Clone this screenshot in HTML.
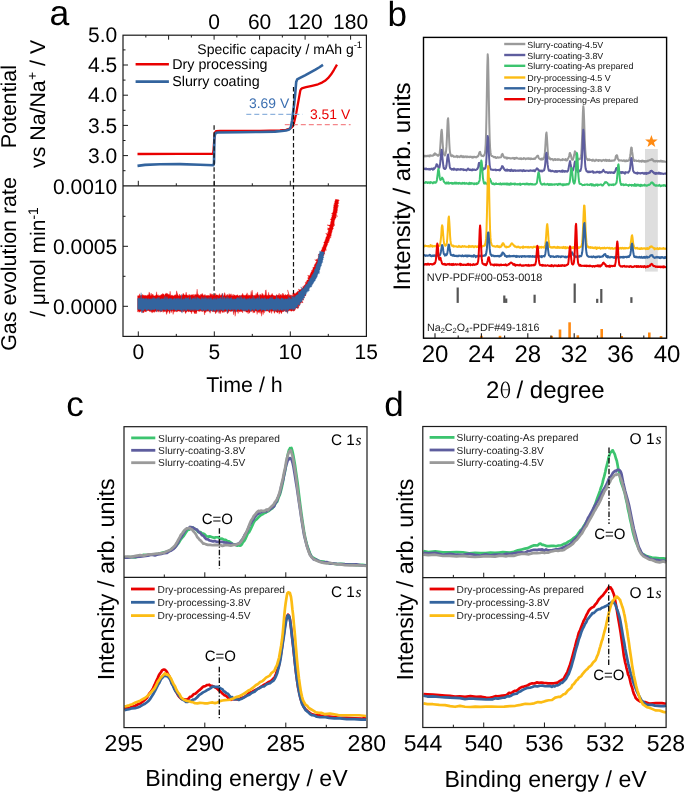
<!DOCTYPE html>
<html><head><meta charset="utf-8"><style>
html,body{margin:0;padding:0;background:#fff;}
body{width:685px;height:792px;overflow:hidden;}
svg{display:block;font-family:"Liberation Sans", sans-serif;will-change:transform;text-rendering:geometricPrecision;}
</style></head><body>
<svg width="685" height="792" viewBox="0 0 685 792">
<rect width="685" height="792" fill="#fff"/>
<text x="49.6" y="25.4" font-size="35.5" text-anchor="start" fill="#000" >a</text>
<rect x="123.0" y="35.2" width="243.4" height="301.2" fill="none" stroke="#1a1a1a" stroke-width="1.2"/>
<line x1="123" y1="185.8" x2="366.4" y2="185.8" stroke="#1a1a1a" stroke-width="1.3" />
<line x1="123" y1="170.7" x2="125.5" y2="170.7" stroke="#1a1a1a" stroke-width="1" />
<line x1="123" y1="155.6" x2="128" y2="155.6" stroke="#1a1a1a" stroke-width="1" />
<line x1="123" y1="140.5" x2="125.5" y2="140.5" stroke="#1a1a1a" stroke-width="1" />
<line x1="123" y1="125.4" x2="128" y2="125.4" stroke="#1a1a1a" stroke-width="1" />
<line x1="123" y1="110.3" x2="125.5" y2="110.3" stroke="#1a1a1a" stroke-width="1" />
<line x1="123" y1="95.2" x2="128" y2="95.2" stroke="#1a1a1a" stroke-width="1" />
<line x1="123" y1="80.1" x2="125.5" y2="80.1" stroke="#1a1a1a" stroke-width="1" />
<line x1="123" y1="65" x2="128" y2="65" stroke="#1a1a1a" stroke-width="1" />
<line x1="123" y1="49.9" x2="125.5" y2="49.9" stroke="#1a1a1a" stroke-width="1" />
<text x="117.2" y="162.8" font-size="21" text-anchor="end" fill="#000" >3.0</text>
<text x="117.2" y="132.6" font-size="21" text-anchor="end" fill="#000" >3.5</text>
<text x="117.2" y="102.4" font-size="21" text-anchor="end" fill="#000" >4.0</text>
<text x="117.2" y="72.2" font-size="21" text-anchor="end" fill="#000" >4.5</text>
<text x="117.2" y="42" font-size="21" text-anchor="end" fill="#000" >5.0</text>
<line x1="123" y1="276.3" x2="125.5" y2="276.3" stroke="#1a1a1a" stroke-width="1" />
<line x1="123" y1="246.3" x2="128" y2="246.3" stroke="#1a1a1a" stroke-width="1" />
<line x1="123" y1="216.3" x2="125.5" y2="216.3" stroke="#1a1a1a" stroke-width="1" />
<line x1="123" y1="306.3" x2="128" y2="306.3" stroke="#1a1a1a" stroke-width="1" />
<text x="117.2" y="193.5" font-size="21" text-anchor="end" fill="#000" >0.0010</text>
<text x="117.2" y="253.5" font-size="21" text-anchor="end" fill="#000" >0.0005</text>
<text x="117.2" y="313.5" font-size="21" text-anchor="end" fill="#000" >0.0000</text>
<line x1="138.3" y1="185.8" x2="138.3" y2="180.8" stroke="#1a1a1a" stroke-width="1" />
<line x1="138.3" y1="336.4" x2="138.3" y2="331.4" stroke="#1a1a1a" stroke-width="1" />
<line x1="176.3" y1="185.8" x2="176.3" y2="183.3" stroke="#1a1a1a" stroke-width="1" />
<line x1="176.3" y1="336.4" x2="176.3" y2="333.9" stroke="#1a1a1a" stroke-width="1" />
<line x1="214.3" y1="185.8" x2="214.3" y2="180.8" stroke="#1a1a1a" stroke-width="1" />
<line x1="214.3" y1="336.4" x2="214.3" y2="331.4" stroke="#1a1a1a" stroke-width="1" />
<line x1="252.3" y1="185.8" x2="252.3" y2="183.3" stroke="#1a1a1a" stroke-width="1" />
<line x1="252.3" y1="336.4" x2="252.3" y2="333.9" stroke="#1a1a1a" stroke-width="1" />
<line x1="290.3" y1="185.8" x2="290.3" y2="180.8" stroke="#1a1a1a" stroke-width="1" />
<line x1="290.3" y1="336.4" x2="290.3" y2="331.4" stroke="#1a1a1a" stroke-width="1" />
<line x1="328.3" y1="185.8" x2="328.3" y2="183.3" stroke="#1a1a1a" stroke-width="1" />
<line x1="328.3" y1="336.4" x2="328.3" y2="333.9" stroke="#1a1a1a" stroke-width="1" />
<text x="138.3" y="358.6" font-size="21" text-anchor="middle" fill="#000" >0</text>
<text x="214.3" y="358.6" font-size="21" text-anchor="middle" fill="#000" >5</text>
<text x="290.3" y="358.6" font-size="21" text-anchor="middle" fill="#000" >10</text>
<text x="366.3" y="358.6" font-size="21" text-anchor="middle" fill="#000" >15</text>
<line x1="145.85" y1="35.2" x2="145.85" y2="37.5" stroke="#1a1a1a" stroke-width="1" />
<line x1="168.6" y1="35.2" x2="168.6" y2="39.7" stroke="#1a1a1a" stroke-width="1" />
<line x1="191.35" y1="35.2" x2="191.35" y2="37.5" stroke="#1a1a1a" stroke-width="1" />
<line x1="214.1" y1="35.2" x2="214.1" y2="39.7" stroke="#1a1a1a" stroke-width="1" />
<line x1="236.85" y1="35.2" x2="236.85" y2="37.5" stroke="#1a1a1a" stroke-width="1" />
<line x1="259.6" y1="35.2" x2="259.6" y2="39.7" stroke="#1a1a1a" stroke-width="1" />
<line x1="282.35" y1="35.2" x2="282.35" y2="37.5" stroke="#1a1a1a" stroke-width="1" />
<line x1="305.1" y1="35.2" x2="305.1" y2="39.7" stroke="#1a1a1a" stroke-width="1" />
<line x1="327.85" y1="35.2" x2="327.85" y2="37.5" stroke="#1a1a1a" stroke-width="1" />
<line x1="350.6" y1="35.2" x2="350.6" y2="39.7" stroke="#1a1a1a" stroke-width="1" />
<text x="214.1" y="28.6" font-size="21" text-anchor="middle" fill="#000" >0</text>
<text x="259.6" y="28.6" font-size="21" text-anchor="middle" fill="#000" >60</text>
<text x="305.1" y="28.6" font-size="21" text-anchor="middle" fill="#000" >120</text>
<text x="350.6" y="28.6" font-size="21" text-anchor="middle" fill="#000" >180</text>
<text x="197.3" y="53.5" font-size="14" text-anchor="start" fill="#000" >Specific capacity / mAh g<tspan dy="-6" font-size="9.5">-1</tspan></text>
<text x="244.5" y="391.7" font-size="21.4" text-anchor="middle" fill="#000" >Time / h</text>
<text transform="translate(15.9,106.6) rotate(-90)" x="0" y="0" font-size="21.4" text-anchor="middle" fill="#000">Potential</text>
<text transform="translate(45.4,103.9) rotate(-90)" x="0" y="0" font-size="21.3" text-anchor="middle" fill="#000">vs Na/Na<tspan dy="-8.3" dx="0.3" font-size="14">+</tspan><tspan dy="8.3"> / V</tspan></text>
<text transform="translate(16,264) rotate(-90)" x="0" y="0" font-size="21.4" text-anchor="middle" fill="#000">Gas evolution rate</text>
<text transform="translate(45.4,262) rotate(-90)" x="0" y="0" font-size="21" text-anchor="middle" fill="#000">/ &#956;mol min<tspan dy="-7" font-size="14">-1</tspan></text>
<line x1="135.6" y1="64.2" x2="168.9" y2="64.2" stroke="#e90000" stroke-width="2.6" />
<line x1="135.6" y1="81.6" x2="168.9" y2="81.6" stroke="#33649e" stroke-width="2.6" />
<text x="172.2" y="69.2" font-size="14.3" text-anchor="start" fill="#000" >Dry processing</text>
<text x="172.2" y="85.8" font-size="14.3" text-anchor="start" fill="#000" >Slurry coating</text>
<polyline points="137.5,154 180,153.9 213,153.9 213.6,150 214.2,140 214.8,133 216,131.2 220,130.9 260,130.8 280,130.4 286,129.8 290,128.6 292.2,126.8 293.6,124.6 296.3,112.9 298.6,100 300.3,90.5 301.2,88.9 302.5,88.1 306,87.2 312,85.8 318,84.3 322,82.6 325,80.8 328,78.2 331,74.6 334,69.8 337,64.6" fill="none" stroke="#e90000" stroke-width="2.3" stroke-linejoin="round" stroke-linecap="butt" />
<polyline points="137.5,165.9 145,164.9 160,164.2 180,164.1 200,164.7 213.4,165.2 214,163 214.2,150 214.4,138 215,134.2 216.2,132.8 218,132.5 240,132.2 260,132 275,131.6 282,131 286,130.5 288.5,129.8 289.8,129 291,126.5 292.1,120.5 293,113 294,105.3 295.2,94 296.2,82 297.2,79.4 300,77.8 305,75.3 310,72.6 315,69.9 319,67.5 323,64.9" fill="none" stroke="#33649e" stroke-width="2.6" stroke-linejoin="round" stroke-linecap="butt" />
<line x1="246.3" y1="114.3" x2="302.6" y2="114.3" stroke="#8fb3dd" stroke-width="1.2" stroke-dasharray="5,3" />
<line x1="284.8" y1="124.7" x2="350.6" y2="124.7" stroke="#f4868a" stroke-width="1.2" stroke-dasharray="5,3" />
<text x="249" y="108.3" font-size="13.9" text-anchor="start" fill="#3a6eb0" >3.69 V</text>
<text x="310" y="118.6" font-size="13.9" text-anchor="start" fill="#e90000" >3.51 V</text>
<line x1="214.1" y1="125.2" x2="214.1" y2="300" stroke="#111" stroke-width="1.2" stroke-dasharray="4.5,2.5" />
<line x1="293.5" y1="87" x2="293.5" y2="300" stroke="#111" stroke-width="1.2" stroke-dasharray="4.5,2.5" />
<polygon points="137.6,295.67 138.1,295.93 138.6,295.41 139.1,295.96 139.6,293.72 140.1,295.67 140.6,295.35 141.1,295.43 141.6,295.03 142.1,295.87 142.6,294.37 143.1,295.23 143.6,295.31 144.1,295.2 144.6,295.44 145.1,295.76 145.6,295.05 146.1,295.88 146.6,295.56 147.1,295.64 147.6,294.66 148.1,295.22 148.6,294.74 149.1,291.93 149.6,293.31 150.1,295.41 150.6,295.38 151.1,293.02 151.6,295.29 152.1,295.56 152.6,293.94 153.1,294.5 153.6,295.81 154.1,295.94 154.6,295.82 155.1,295.61 155.6,295.55 156.1,295.19 156.6,291.74 157.1,295.12 157.6,295.45 158.1,294.54 158.6,295.96 159.1,295.82 159.6,295.54 160.1,295.83 160.6,294.89 161.1,294.97 161.6,294.22 162.1,294.78 162.6,293.47 163.1,293.76 163.6,294.03 164.1,294.81 164.6,295.77 165.1,293.81 165.6,294.26 166.1,292.83 166.6,293.64 167.1,294.59 167.6,293.25 168.1,294.75 168.6,294.47 169.1,293.93 169.6,295.55 170.1,291.15 170.6,295.6 171.1,295.53 171.6,294.9 172.1,295.7 172.6,295.33 173.1,295.39 173.6,295.92 174.1,295.73 174.6,294.94 175.1,294.76 175.6,294.81 176.1,295.76 176.6,290.8 177.1,292.44 177.6,294.17 178.1,295.39 178.6,295.64 179.1,295.9 179.6,293.98 180.1,294.97 180.6,295.55 181.1,295.74 181.6,295.79 182.1,294.67 182.6,295.38 183.1,293.13 183.6,293.91 184.1,294.76 184.6,295.03 185.1,295.28 185.6,294.65 186.1,292.1 186.6,294.5 187.1,295.4 187.6,295.01 188.1,295.94 188.6,295.22 189.1,294.2 189.6,295.1 190.1,295.94 190.6,294.85 191.1,295.22 191.6,294.67 192.1,294.64 192.6,295.3 193.1,294.06 193.6,295.62 194.1,295.94 194.6,294.48 195.1,295.02 195.6,294.33 196.1,294.75 196.6,294.34 197.1,289.12 197.6,294.65 198.1,293.76 198.6,295.27 199.1,295.27 199.6,295.13 200.1,295.72 200.6,294.39 201.1,294.05 201.6,295.28 202.1,293.36 202.6,294 203.1,295.54 203.6,295.48 204.1,294.6 204.6,295.82 205.1,294.44 205.6,295.67 206.1,295.71 206.6,295.53 207.1,295.12 207.6,295.63 208.1,295.3 208.6,295.56 209.1,295.6 209.6,295.98 210.1,293.31 210.6,295.06 211.1,293.65 211.6,294.39 212.1,295.78 212.6,294.19 213.1,294.17 213.6,295.43 214.1,294.98 214.6,295.69 215.1,295.74 215.6,293.31 216.1,294.8 216.6,295.01 217.1,295.09 217.6,295.13 218.1,294.64 218.6,295.73 219.1,295.55 219.6,293.53 220.1,295.41 220.6,295.32 221.1,295.18 221.6,295.11 222.1,293.23 222.6,293.98 223.1,295.4 223.6,295.64 224.1,295.1 224.6,292.59 225.1,293.79 225.6,295.9 226.1,295.92 226.6,294.66 227.1,295.85 227.6,294.21 228.1,295.2 228.6,295.65 229.1,293.51 229.6,295.55 230.1,294.16 230.6,295.48 231.1,293.63 231.6,295.87 232.1,295.49 232.6,295.8 233.1,294.04 233.6,295.89 234.1,295.13 234.6,294.79 235.1,295.42 235.6,295.43 236.1,295.82 236.6,295.04 237.1,295.19 237.6,294.61 238.1,295.81 238.6,295.9 239.1,295.66 239.6,295.02 240.1,295.7 240.6,295.45 241.1,295.67 241.6,294.95 242.1,294.72 242.6,293.22 243.1,295.85 243.6,294.73 244.1,295.19 244.6,295.41 245.1,295.16 245.6,295.45 246.1,294.47 246.6,294.68 247.1,292.76 247.6,295.23 248.1,295.92 248.6,294.66 249.1,295.29 249.6,295.62 250.1,294.84 250.6,295.91 251.1,291.31 251.6,295.73 252.1,289.96 252.6,294.77 253.1,295.31 253.6,295.75 254.1,295.45 254.6,295.5 255.1,294.85 255.6,295.93 256.1,293.34 256.6,295.74 257.1,293.55 257.6,291.91 258.1,295.32 258.6,294.83 259.1,295.95 259.6,294.94 260.1,293.92 260.6,294.95 261.1,295.17 261.6,295.16 262.1,292.94 262.6,294.61 263.1,294.24 263.6,295.73 264.1,294.64 264.6,295.84 265.1,295.05 265.6,290.27 266.1,289.75 266.6,295.52 267.1,294.93 267.6,295.39 268.1,295.63 268.6,292.24 269.1,295.14 269.6,295.12 270.1,295.22 270.6,295.62 271.1,294.44 271.6,295.18 272.1,293.24 272.6,294.74 273.1,294.89 273.6,295.55 274.1,295.7 274.6,295.59 275.1,295.93 275.6,295.82 276.1,295.23 276.6,294.59 277.1,295.01 277.6,295.56 278.1,294.81 278.6,295.52 279.1,293.11 279.6,295.73 280.1,295.19 280.6,294.58 281.1,294.16 281.6,295.57 282.1,295.74 282.6,293.05 283.1,295.76 283.6,293.57 284.1,295.49 284.6,294.89 285.1,295.6 285.6,294.34 286.1,294.93 286.6,295.35 287.1,294.73 287.6,294.58 288.1,294.52 288.6,295.88 287.94,295.44 287.76,295.77 288.36,295.88 288.65,295.31 287.58,289.9 289.07,294.57 289.19,294.48 289.76,295.8 290.04,296.28 290.11,296.2 289.81,295.35 290.08,295.32 289.99,294.68 291.52,296.2 291.27,295.28 291.5,294.99 292.39,295.46 293.02,295.56 293.44,295.41 292.15,293.48 293.66,294.56 294.18,294.61 293.66,293.71 294.18,293.7 294.12,293.15 296.01,294.08 295.54,293.11 295.9,292.77 296.67,292.74 296.68,292.14 297.46,292.12 297.58,291.6 297.7,291.07 298.8,291.29 298.96,290.8 298.78,290.06 298.32,289.13 300.48,290.09 300.66,289.62 300.71,289.06 301.05,288.71 301.84,288.66 301.98,288.17 302.73,288.1 303.12,287.77 302.43,286.75 303.53,286.89 303.32,286.19 303.96,286.01 303.97,285.45 304.54,285.23 304.84,284.84 305.25,284.51 305.3,283.98 305.76,283.68 305.01,282.71 305.58,282.47 306.62,282.48 305.93,281.56 306.76,281.44 307.14,281.09 306.7,280.31 307.3,280.08 308.1,279.93 308.31,279.49 308.1,278.86 307.63,278.1 308.69,278.05 307.76,277.09 309.08,277.14 308.28,276.24 307.6,275.39 309.55,275.71 309.72,275.24 310.18,274.89 310.06,274.28 310.15,273.77 310.55,273.39 310.83,272.96 310.94,272.45 311.04,271.94 311.62,271.66 311.7,271.15 311.48,270.48 312.43,270.38 312.23,269.73 312.81,269.45 312.99,268.99 312.92,268.4 312.86,267.81 312.9,267.27 313.96,267.23 314.02,266.7 314.44,266.35 314.27,265.71 314.27,265.16 314.59,264.76 314.72,264.26 315.49,264.08 315.13,263.35 315.92,263.17 315.88,262.59 316.1,262.13 316.36,261.7 316.74,261.33 314.66,259.73 316.81,260.24 316.11,259.33 317.42,259.43 317.82,259.08 317.77,258.5 318.1,258.12 318.34,257.68 318.65,257.29 318.66,256.76 317.84,255.84 319.3,255.98 319.21,255.4 317.97,254.34 319.85,254.62 319.91,254.11 320.37,253.77 320.3,253.21 320.55,252.78 320.73,252.33 321.03,251.91 321.25,251.47 321.35,250.98 320.98,250.3 321.73,250.06 321.68,249.51 322.11,249.14 322.34,248.69 321.7,247.92 322.6,247.72 322.49,247.14 322.79,246.72 323.25,246.36 323.21,245.81 323.5,245.38 323.45,244.82 323.97,244.48 324.04,243.97 324.31,243.54 323.67,242.76 323.86,242.3 324.27,241.92 324.75,241.57 324.84,241.07 324.81,240.53 325.29,240.18 325.12,239.58 325.72,239.28 325.44,238.64 326.02,238.33 325.93,237.77 325.84,237.21 326.11,236.79 326.66,236.46 327.09,236.09 326.8,235.47 326.84,234.97 326.81,234.44 325.6,233.53 327.82,233.74 327.83,233.22 327.49,232.6 328.23,232.32 328.37,231.85 327.88,231.19 328.49,230.86 328.32,230.3 327.41,229.53 328.24,229.26 328.83,228.91 327.22,227.97 329.33,228.02 329.56,227.57 329.5,227.04 329.4,226.5 330.03,226.15 326.98,224.88 329.77,225.07 330.27,224.68 330.09,224.13 330.57,223.74 330.48,223.21 330.63,222.73 330.56,222.21 330.66,221.72 330.98,221.28 331.05,220.79 331.33,220.34 330.27,219.6 330.52,219.14 331.57,218.86 331.14,218.26 331.35,217.79 331.54,217.32 331.94,216.9 332.01,216.4 331.53,215.78 332.25,215.43 332.26,214.92 332.68,214.5 331.38,213.7 332.18,213.37 332.67,212.96 332.81,212.48 332.77,211.96 333.12,211.53 333.32,211.06 333.23,210.53 333.18,210.01 333.43,209.56 333.41,209.05 333.68,208.6 333.31,208.01 333.61,207.57 333.34,207.01 333.69,206.58 334.1,206.16 334.03,205.64 333.37,205.03 334.47,204.73 334.34,204.21 333.96,203.66 334.64,203.27 334.44,202.74 335.01,202.33 334.63,201.78 334.85,201.31 334.93,200.82 335.29,200.36 335.39,199.87 335.38,199.36 338.64,199.83 339.39,200.43 338.58,200.82 338.43,201.3 338.52,201.83 338.72,202.36 338.25,202.81 338.73,203.39 338.37,203.85 337.83,204.28 337.78,204.79 337.69,205.29 338.89,206.02 337.52,206.3 338.06,206.92 337.91,207.41 337.49,207.84 337.71,208.4 337.02,208.77 337.8,209.45 337.22,209.85 337.57,210.43 337.15,210.86 337.32,211.41 336.85,211.82 337.38,212.45 336.65,212.8 336.83,213.36 335.96,213.68 336.45,214.3 336.54,214.83 335.69,215.16 337.82,216.14 336.16,216.28 335.72,216.7 335.98,217.27 336.2,217.83 335.54,218.19 335.18,218.63 335.17,219.14 334.94,219.6 334.77,220.08 334.46,220.52 334.51,221.05 334.32,221.52 334.44,222.06 334.04,222.49 334.42,223.09 333.91,223.49 334.74,224.2 333.61,224.45 334.91,225.28 333.77,225.53 333.65,226.02 333.75,226.57 333.24,226.96 332.85,227.39 333.33,228.03 333.32,228.55 333.08,229.01 332.69,229.43 332.51,229.91 332.11,230.32 332.26,230.89 332.27,231.42 331.82,231.82 331.62,232.29 332.11,232.97 331.68,233.37 331.08,233.72 331.49,234.38 331.13,234.8 330.96,235.28 331.59,236.02 330.64,236.25 330.11,236.6 331.24,237.53 329.9,237.61 329.62,238.04 329.94,238.7 329.72,239.16 329.21,239.51 329.28,240.07 329.14,240.56 329.37,241.18 328.55,241.41 328.26,241.84 328.67,242.53 328.27,242.91 327.68,243.22 327.53,243.7 327.87,244.37 327.37,244.71 327.1,245.14 327.24,245.73 326.7,246.06 326.85,246.65 326.43,247.02 326.18,247.46 326.15,247.98 325.87,248.41 326.45,249.16 325.5,249.34 326.47,250.23 325.11,250.26 325.14,250.81 325.14,251.34 324.61,251.68 324.71,252.26 324.4,252.68 324.07,253.1 325.15,254.07 323.84,254.09 323.88,254.66 324.13,255.31 323.15,255.46 323.22,256.04 322.7,256.38 323.16,257.14 322.34,257.34 322.55,258 322.2,258.4 321.97,258.86 321.96,259.43 321.23,259.64 320.95,260.06 321.24,260.77 321.3,261.37 320.5,261.53 320.37,262.02 320.28,262.54 320,262.95 320.33,263.68 319.21,263.67 320.47,264.84 319.63,264.98 318.75,265.1 318.71,265.63 318.62,266.14 317.97,266.38 317.82,266.87 317.82,267.42 317.45,267.8 317.71,268.48 317.99,269.17 317.17,269.33 316.52,269.57 316.1,269.92 315.93,270.39 315.86,270.91 315.63,271.36 315.24,271.72 315.14,272.23 314.88,272.66 314.86,273.2 315.89,274.24 314.68,274.22 313.96,274.43 313.8,274.89 314.05,275.55 313.93,276.04 313.24,276.27 313.22,276.8 313.46,277.46 312.52,277.58 312.4,278.08 312.64,278.73 312.31,279.14 312.47,279.77 312.32,280.26 311.33,280.37 312.09,281.31 310.83,281.27 310.62,281.73 310.42,282.21 312.74,283.99 309.94,283.11 310.26,283.85 309.68,284.12 309.97,284.86 309.6,285.24 309.83,285.96 308.66,285.89 309.15,286.77 308.5,286.98 308.53,287.6 308.4,288.12 308.2,288.62 308.13,289.18 307.32,289.28 307.24,289.85 306.53,290 306.93,290.89 306.41,291.17 306.16,291.63 306.06,292.18 305.57,292.47 305.34,292.94 305.04,293.35 305.91,294.61 306,295.31 305.6,295.65 305.18,295.98 304.4,296.04 304.13,296.48 304.01,297.03 304.36,297.94 303.93,298.26 303.03,298.21 303.2,298.98 303.88,300.17 302.19,299.56 301.86,300.04 302.24,301.18 303.09,302.89 300.96,301.79 301.3,303.07 300.68,303.31 300.09,303.55 299.88,304.22 299.76,305.03 299.58,305.83 298.51,305.48 298.83,307.04 298.43,307.72 298.03,308.55 296.72,308.01 295.73,308.1 295.27,309.47 294.7,310.68 293.84,310.83 293.21,311.36 292.32,310.61 291.82,311.09 291.44,311.34 290.01,310.57 288.6,310.84 288.1,311.3 287.6,312.33 287.1,312.72 286.6,311.21 286.1,312.12 285.6,310.66 285.1,310.71 284.6,310.81 284.1,311.45 283.6,311.14 283.1,312.03 282.6,311.41 282.1,311.71 281.6,313.53 281.1,313.41 280.6,312.05 280.1,311.78 279.6,312.54 279.1,314.2 278.6,310.9 278.1,312.25 277.6,312.69 277.1,312.7 276.6,311.96 276.1,311.68 275.6,311.63 275.1,310.61 274.6,313.39 274.1,312.78 273.6,310.64 273.1,311.24 272.6,311.19 272.1,310.75 271.6,313.6 271.1,310.77 270.6,310.6 270.1,312.21 269.6,313.01 269.1,311.97 268.6,311.19 268.1,311.51 267.6,311.03 267.1,310.82 266.6,311.13 266.1,310.86 265.6,310.96 265.1,311.02 264.6,310.86 264.1,313.17 263.6,310.8 263.1,314.67 262.6,311.5 262.1,312.01 261.6,316.26 261.1,311.66 260.6,311.09 260.1,313.53 259.6,311.02 259.1,312.69 258.6,311.3 258.1,312.71 257.6,310.96 257.1,314.44 256.6,310.93 256.1,311.34 255.6,310.66 255.1,311.39 254.6,313.03 254.1,311.59 253.6,311.68 253.1,313.18 252.6,310.77 252.1,310.63 251.6,311.67 251.1,311.36 250.6,311.15 250.1,311.4 249.6,312.83 249.1,313.33 248.6,310.86 248.1,313.85 247.6,312.11 247.1,312.03 246.6,312.11 246.1,312.26 245.6,311.45 245.1,310.78 244.6,311.23 244.1,310.93 243.6,310.66 243.1,310.72 242.6,313.03 242.1,310.82 241.6,311.99 241.1,310.74 240.6,311.75 240.1,311.32 239.6,312.14 239.1,310.88 238.6,310.99 238.1,313.58 237.6,311.22 237.1,312 236.6,311.27 236.1,310.82 235.6,313.12 235.1,316.32 234.6,311.16 234.1,311.74 233.6,314.85 233.1,310.73 232.6,310.91 232.1,311.07 231.6,311.36 231.1,311.44 230.6,311.37 230.1,311.51 229.6,310.97 229.1,311.04 228.6,312.78 228.1,311.33 227.6,314 227.1,312.46 226.6,310.85 226.1,310.89 225.6,311.9 225.1,310.95 224.6,311.45 224.1,312.62 223.6,312.3 223.1,310.7 222.6,312.76 222.1,312.06 221.6,311 221.1,311.12 220.6,313.7 220.1,311.41 219.6,311.75 219.1,313.64 218.6,311.44 218.1,310.63 217.6,311.67 217.1,310.77 216.6,312.58 216.1,311.77 215.6,313.89 215.1,312.21 214.6,311.71 214.1,311.25 213.6,311.83 213.1,311.85 212.6,311.7 212.1,310.84 211.6,310.64 211.1,310.79 210.6,311.25 210.1,313.37 209.6,311.51 209.1,311.68 208.6,311.32 208.1,310.67 207.6,311.03 207.1,311.54 206.6,310.73 206.1,312.11 205.6,312.7 205.1,311.36 204.6,314.98 204.1,311.81 203.6,310.85 203.1,311.38 202.6,311.15 202.1,311.79 201.6,311.26 201.1,310.79 200.6,311.34 200.1,310.61 199.6,311.74 199.1,310.72 198.6,311.49 198.1,310.76 197.6,310.68 197.1,310.64 196.6,313.77 196.1,311.89 195.6,313.98 195.1,311.75 194.6,313.74 194.1,312.89 193.6,310.89 193.1,312.05 192.6,311.51 192.1,311.06 191.6,313.85 191.1,311.9 190.6,311.69 190.1,311.9 189.6,311.31 189.1,311.54 188.6,311.77 188.1,311.66 187.6,310.97 187.1,311.15 186.6,311.89 186.1,312.61 185.6,313.64 185.1,312.21 184.6,311.16 184.1,310.85 183.6,311.98 183.1,311.55 182.6,310.76 182.1,311.88 181.6,311.98 181.1,311.54 180.6,311.41 180.1,311.45 179.6,311.37 179.1,311.2 178.6,310.96 178.1,310.95 177.6,311.75 177.1,311.31 176.6,311.69 176.1,311.85 175.6,311.15 175.1,311.32 174.6,312.2 174.1,310.73 173.6,311.65 173.1,314.45 172.6,310.67 172.1,310.84 171.6,311.4 171.1,312.78 170.6,310.61 170.1,310.92 169.6,313.74 169.1,312.35 168.6,310.77 168.1,311.21 167.6,311.68 167.1,312.95 166.6,314.5 166.1,311.83 165.6,311.15 165.1,311.67 164.6,311.54 164.1,311.39 163.6,311.21 163.1,312.42 162.6,310.91 162.1,310.61 161.6,311.97 161.1,311.19 160.6,311.15 160.1,312.37 159.6,311.28 159.1,310.68 158.6,311.13 158.1,312.2 157.6,311.25 157.1,310.63 156.6,310.85 156.1,312.02 155.6,310.96 155.1,311.27 154.6,312.49 154.1,311.55 153.6,311.77 153.1,312.33 152.6,311.53 152.1,313.15 151.6,311.82 151.1,311.63 150.6,311.84 150.1,310.81 149.6,311.6 149.1,311.21 148.6,310.61 148.1,310.63 147.6,310.61 147.1,311.02 146.6,310.9 146.1,312.11 145.6,311.38 145.1,311.68 144.6,310.75 144.1,312.33 143.6,312.25 143.1,313 142.6,312.46 142.1,311.15 141.6,310.64 141.1,311.77 140.6,310.66 140.1,311.96 139.6,312.15 139.1,311.43 138.6,311.03 138.1,312.21 137.6,311.67" fill="#e90000" stroke="#e90000" stroke-width="0.3"/>
<polygon points="137.6,298.94 138.1,298.01 138.6,298.61 139.1,297.61 139.6,298.29 140.1,299.13 140.6,298 141.1,292.68 141.6,298.22 142.1,298.55 142.6,298.44 143.1,298.81 143.6,297.93 144.1,298.16 144.6,299.37 145.1,299.31 145.6,298.62 146.1,297.82 146.6,299.1 147.1,298.62 147.6,299.14 148.1,299.57 148.6,298.3 149.1,298.68 149.6,299.2 150.1,298.75 150.6,299.34 151.1,298.43 151.6,299.27 152.1,298.3 152.6,299.21 153.1,297.17 153.6,298.77 154.1,297.42 154.6,298.48 155.1,298.69 155.6,298.91 156.1,298.09 156.6,299.58 157.1,298.25 157.6,298.38 158.1,297.13 158.6,299.47 159.1,297.08 159.6,299.12 160.1,299.52 160.6,299.09 161.1,298.92 161.6,298.27 162.1,298.99 162.6,298.87 163.1,298.98 163.6,299.01 164.1,297.42 164.6,299.46 165.1,296.04 165.6,299.23 166.1,299.41 166.6,297.67 167.1,296.67 167.6,299.11 168.1,298.62 168.6,299.54 169.1,298.33 169.6,298.62 170.1,298.27 170.6,298.87 171.1,298.57 171.6,298.27 172.1,299.47 172.6,299.41 173.1,299.11 173.6,299.08 174.1,297.79 174.6,298.36 175.1,299.21 175.6,299.26 176.1,297.83 176.6,298.77 177.1,299.15 177.6,298.2 178.1,299.45 178.6,297.66 179.1,299.25 179.6,298.67 180.1,298.32 180.6,299.35 181.1,299.53 181.6,294.32 182.1,299.14 182.6,299.51 183.1,299.26 183.6,298.41 184.1,298.29 184.6,299.41 185.1,298.64 185.6,297.44 186.1,297.36 186.6,298.92 187.1,297.98 187.6,298 188.1,298.94 188.6,297.01 189.1,299.27 189.6,299.46 190.1,298.38 190.6,296.59 191.1,299.3 191.6,299.39 192.1,298.65 192.6,298.3 193.1,297.67 193.6,298.61 194.1,298.65 194.6,298.7 195.1,296.48 195.6,298.86 196.1,299.49 196.6,298.6 197.1,296.87 197.6,297.99 198.1,298.24 198.6,298.01 199.1,298.68 199.6,298.43 200.1,298.93 200.6,299.29 201.1,299.49 201.6,296.89 202.1,298.6 202.6,298.87 203.1,297.18 203.6,299.37 204.1,298.7 204.6,298.77 205.1,296.49 205.6,299.33 206.1,297.5 206.6,299.4 207.1,297.78 207.6,299.51 208.1,298.42 208.6,298.99 209.1,297.06 209.6,299.57 210.1,298.77 210.6,298.18 211.1,297.25 211.6,298.73 212.1,299.5 212.6,299.58 213.1,299.43 213.6,298.04 214.1,299.04 214.6,299.3 215.1,297.39 215.6,299.3 216.1,299.24 216.6,299.45 217.1,297.18 217.6,298.88 218.1,298.24 218.6,298.85 219.1,298.52 219.6,297.93 220.1,299.06 220.6,296.85 221.1,297.41 221.6,298.93 222.1,299.54 222.6,293.29 223.1,298.28 223.6,299.39 224.1,296.91 224.6,297.01 225.1,299.51 225.6,298.47 226.1,298.4 226.6,297.8 227.1,296.13 227.6,299 228.1,299.03 228.6,297.31 229.1,299.43 229.6,298.23 230.1,298.39 230.6,297.94 231.1,299.08 231.6,297 232.1,298.73 232.6,299.54 233.1,299.15 233.6,298.54 234.1,299.48 234.6,298.41 235.1,299.3 235.6,299.06 236.1,299.06 236.6,298.01 237.1,298.42 237.6,297.23 238.1,298.75 238.6,297.55 239.1,298.58 239.6,298.72 240.1,295.66 240.6,299.49 241.1,298.17 241.6,296.59 242.1,299.12 242.6,298.39 243.1,299.2 243.6,298.57 244.1,297.14 244.6,298.46 245.1,298.31 245.6,299.35 246.1,299.39 246.6,299.42 247.1,298.21 247.6,299.21 248.1,298.64 248.6,299.29 249.1,297.87 249.6,297.89 250.1,299.58 250.6,298.85 251.1,298.82 251.6,298.37 252.1,298.36 252.6,299.22 253.1,295.61 253.6,299.13 254.1,299.33 254.6,297.52 255.1,299.5 255.6,298.74 256.1,298.4 256.6,298.4 257.1,298.74 257.6,297.49 258.1,298.33 258.6,299.48 259.1,295.53 259.6,297.71 260.1,299.27 260.6,299.11 261.1,299.34 261.6,297.76 262.1,298.08 262.6,298.4 263.1,299.44 263.6,298.49 264.1,299.51 264.6,297.81 265.1,297.59 265.6,298.96 266.1,299.38 266.6,299.14 267.1,298.58 267.6,298.78 268.1,299.17 268.6,299.08 269.1,298.43 269.6,297.86 270.1,299.15 270.6,297.03 271.1,297.97 271.6,299.02 272.1,296.62 272.6,298.64 273.1,299.11 273.6,298.99 274.1,298.9 274.6,299.49 275.1,298.67 275.6,298.96 276.1,298.89 276.6,295.07 277.1,299.18 277.6,298.41 278.1,297.54 278.6,298.51 279.1,298.89 279.6,298.68 280.1,299.54 280.6,299.56 281.1,298.11 281.6,297.66 282.1,298.55 282.6,298.57 283.1,298.35 283.6,299.29 284.1,299.54 284.6,299.4 285.1,298.16 285.6,299.23 286.1,298.72 286.6,299.35 287.1,299.01 287.6,298.39 288.1,299.19 288.6,299.41 288.05,295.87 288.53,299.13 288.88,297.8 289.24,297.76 289.53,297.84 289.91,298.59 290.15,298.85 290.22,298.71 289.53,297.15 290.87,299.23 291.11,298.98 291.17,298.41 291.73,298.56 292.44,298.87 290.6,295.86 291.63,296.58 292.03,296.48 293.72,297.82 292.87,296.29 294.33,297.26 294.92,297.27 295.04,296.81 294.33,295.63 296,296.57 295.72,295.78 296.06,295.51 296.2,295.06 296.82,294.96 297.19,294.65 297.77,294.49 298.29,294.27 298.29,293.66 298.38,293.12 298.48,292.57 298.01,291.59 299.63,292.13 299.94,291.72 300.24,291.28 300.72,291 301.21,290.73 301.2,290.08 301.03,289.31 302.26,289.63 302.6,289.26 300.6,287.08 303.42,288.64 303.55,288.11 303.95,287.79 304.37,287.49 303.8,286.43 305.01,286.74 305.42,286.43 305.15,285.61 305.55,285.3 306.08,285.07 305.97,284.36 306.83,284.37 307.18,284.01 307.59,283.69 307.53,283.01 307.87,282.65 307.54,281.8 308.18,281.67 308.4,281.25 309.35,281.34 309.57,280.91 308.92,279.9 309.99,280.06 309.54,279.22 309.69,278.78 310.53,278.75 310.17,278.01 311.24,278.07 310.75,277.25 311.71,277.23 311.39,276.52 311.92,276.26 311.58,275.55 312.25,275.34 312.18,274.77 312.71,274.5 312.88,274.04 313.5,273.79 312.73,272.91 313.92,272.91 313.68,272.27 314.17,271.96 314.4,271.52 314.28,270.94 314.4,270.48 314.08,269.83 314.62,269.53 315.26,269.25 315.21,268.72 315.55,268.32 315.35,267.74 316.07,267.47 315.97,266.92 315.57,266.27 316.31,266 316.18,265.44 316.53,265.05 316.36,264.48 316.82,264.11 316.91,263.63 317.38,263.27 317.49,262.8 317.55,262.32 317.79,261.89 317.91,261.43 317.51,260.84 318.16,260.51 317.89,259.96 317.91,259.47 318.15,259.03 318.1,258.52 318.18,258.03 318.23,257.53 318.71,257.11 318.67,256.59 318.51,256.06 318.96,255.66 318.18,255.01 318.98,254.66 319.01,254.17 319.35,253.73 319.28,253.22 319.68,252.78 319.59,252.26 319.82,251.79 319.35,251.2 324.67,252.13 323.91,252.5 324.32,253.07 324.23,253.57 323.66,253.98 323.86,254.53 323.8,255.03 323.47,255.49 323.39,255.99 323.42,256.52 323.57,257.08 323.95,257.67 322.85,257.95 323.16,258.52 322.89,258.98 323.35,259.59 322.73,259.98 322.47,260.45 323.02,261.11 322.28,261.48 322.97,262.19 321.97,262.48 321.9,263 321.76,263.51 321.74,264.05 321.3,264.46 321.53,265.07 321.52,265.6 320.96,265.96 320.87,266.47 320.53,266.89 320.36,267.37 320.4,267.92 320.1,268.36 320.31,268.98 319.92,269.38 319.98,269.95 319.48,270.31 319.28,270.79 319.23,271.32 319.95,272.16 318.8,272.26 319.31,273.03 319.32,273.6 318.02,273.61 317.88,274.1 317.9,274.67 317.39,275.01 317.37,275.56 317.59,276.23 316.83,276.44 317.17,277.18 316.7,277.52 316.27,277.89 316.08,278.38 316.09,278.96 315.45,279.21 315.29,279.72 315.29,280.32 315.2,280.87 314.66,281.18 314.11,281.47 313.89,281.96 313.67,282.45 313.61,283.05 313.24,283.44 312.85,283.81 312.59,284.26 312.12,284.56 312.25,285.3 311.83,285.63 311.13,285.73 311.82,286.89 310.99,286.88 310.51,287.14 310.02,287.39 309.65,287.73 309.5,288.25 309.4,288.81 308.73,288.94 309.63,290.26 309.11,290.5 308.64,290.78 308.52,291.33 307.67,291.31 307.42,291.75 307.38,292.35 306.54,292.34 306.48,292.92 306.57,293.62 305.79,293.65 306.04,294.46 305.38,294.58 305.48,295.26 305.02,295.51 304.86,295.98 304.26,296.15 304.37,296.84 304.7,297.69 304.32,298.04 303.79,298.28 302.89,298.26 303.63,299.46 302.77,299.49 302.08,299.63 302.45,300.62 301.76,300.8 301.67,301.48 301.68,302.29 300.67,302.17 300.16,302.5 299.73,302.89 300.36,304.41 299.86,304.76 299.44,305.19 298,304.39 297.97,305.28 297.32,305.4 298.42,307.97 296.95,306.97 296.18,306.95 295.99,307.93 295.24,308.21 294.87,309.58 293.6,308.79 293.22,310.45 291.91,308.45 291.41,309.27 290.81,309.4 290.35,309.32 289.48,309.06 288.6,309.74 288.1,310.36 287.6,313.71 287.1,309.18 286.6,309.14 286.1,312.09 285.6,311.73 285.1,309.23 284.6,310.21 284.1,309.15 283.6,309.51 283.1,311.54 282.6,309.17 282.1,310.4 281.6,310.29 281.1,310.28 280.6,309.49 280.1,309.56 279.6,310.82 279.1,310.14 278.6,309.15 278.1,311.24 277.6,309 277.1,309.47 276.6,310.1 276.1,311.49 275.6,309.47 275.1,309.96 274.6,310.77 274.1,309.5 273.6,311.15 273.1,310.31 272.6,309.45 272.1,309.17 271.6,309.37 271.1,309.01 270.6,310.12 270.1,309.54 269.6,309.24 269.1,310.83 268.6,310.96 268.1,309.86 267.6,309.51 267.1,309.91 266.6,309.41 266.1,310.13 265.6,311.16 265.1,310.97 264.6,310.45 264.1,310.12 263.6,309.73 263.1,310.31 262.6,309.87 262.1,310.07 261.6,311.58 261.1,309.48 260.6,309.37 260.1,309.53 259.6,309.49 259.1,310.07 258.6,310.02 258.1,309.72 257.6,311.03 257.1,310.27 256.6,310 256.1,309.01 255.6,309 255.1,309.22 254.6,311.14 254.1,309.84 253.6,310.88 253.1,309.44 252.6,309.59 252.1,309.14 251.6,310.44 251.1,310.69 250.6,310.59 250.1,311.82 249.6,309.41 249.1,309.51 248.6,309.06 248.1,309.93 247.6,310.82 247.1,310.57 246.6,309.55 246.1,311.13 245.6,310.43 245.1,309.01 244.6,310.53 244.1,311.33 243.6,309.41 243.1,311.11 242.6,310.5 242.1,309.58 241.6,310.07 241.1,309.07 240.6,309.31 240.1,309.85 239.6,310 239.1,310.14 238.6,309.27 238.1,309.5 237.6,309.35 237.1,310.01 236.6,310.19 236.1,311.94 235.6,309.39 235.1,309.66 234.6,309.39 234.1,309.41 233.6,309.29 233.1,311.97 232.6,309.37 232.1,309.86 231.6,309.71 231.1,309.04 230.6,310.62 230.1,310.32 229.6,310.14 229.1,309.41 228.6,309.3 228.1,309.21 227.6,312.39 227.1,312.83 226.6,309.57 226.1,309.76 225.6,309.21 225.1,309.57 224.6,309.96 224.1,309.08 223.6,311.25 223.1,309.9 222.6,310.88 222.1,309.8 221.6,309.19 221.1,310.43 220.6,309.03 220.1,310.67 219.6,309.36 219.1,310.68 218.6,309.03 218.1,312.51 217.6,309.56 217.1,310.27 216.6,309.32 216.1,309.99 215.6,310.14 215.1,311.75 214.6,310.7 214.1,310.49 213.6,310.27 213.1,309.23 212.6,311.45 212.1,310.77 211.6,311.32 211.1,310.04 210.6,309.47 210.1,310.64 209.6,311.34 209.1,310.55 208.6,310.38 208.1,309.05 207.6,309.85 207.1,309.06 206.6,310.61 206.1,310.2 205.6,309.43 205.1,310.72 204.6,310.51 204.1,311.04 203.6,309.51 203.1,309.18 202.6,311.13 202.1,310.17 201.6,310.46 201.1,309.64 200.6,309.01 200.1,309.39 199.6,309.41 199.1,309.49 198.6,309.89 198.1,309.75 197.6,310.41 197.1,310.06 196.6,310.2 196.1,309.77 195.6,309.18 195.1,310.74 194.6,309.99 194.1,309.07 193.6,310.04 193.1,310.91 192.6,309.58 192.1,309.84 191.6,310.54 191.1,309.28 190.6,310.68 190.1,309.05 189.6,309.79 189.1,310.49 188.6,309.63 188.1,309.27 187.6,309.58 187.1,309.55 186.6,310.88 186.1,310.63 185.6,310.94 185.1,309.16 184.6,309.81 184.1,309.73 183.6,311.28 183.1,309.6 182.6,309.59 182.1,313.18 181.6,311.74 181.1,310.29 180.6,310.2 180.1,309.64 179.6,309.87 179.1,310.3 178.6,309.6 178.1,310.07 177.6,309.61 177.1,310.26 176.6,310.85 176.1,310.3 175.6,310.46 175.1,310.08 174.6,309.97 174.1,309.29 173.6,309.34 173.1,309.48 172.6,310.33 172.1,310.01 171.6,309.44 171.1,309.77 170.6,309.77 170.1,311.12 169.6,309.9 169.1,309.47 168.6,310.13 168.1,309.96 167.6,309.37 167.1,309.29 166.6,309.05 166.1,310.84 165.6,310.5 165.1,309.87 164.6,309.92 164.1,309.55 163.6,309.72 163.1,309.53 162.6,309.41 162.1,311.15 161.6,309.63 161.1,311.82 160.6,311.01 160.1,309.42 159.6,311.3 159.1,309.6 158.6,310.41 158.1,309.03 157.6,310.33 157.1,309.55 156.6,312.17 156.1,309.04 155.6,309.09 155.1,309.12 154.6,309.86 154.1,310.24 153.6,310.04 153.1,309.08 152.6,309.94 152.1,309.14 151.6,310.42 151.1,309.93 150.6,309.2 150.1,310.66 149.6,309.45 149.1,309.65 148.6,309.2 148.1,309.7 147.6,309.52 147.1,310.42 146.6,310.99 146.1,310.09 145.6,309.33 145.1,309.35 144.6,309.62 144.1,309.21 143.6,310.94 143.1,310.74 142.6,309.73 142.1,313.14 141.6,312.39 141.1,309.39 140.6,309.49 140.1,309.66 139.6,309.64 139.1,309.34 138.6,309.38 138.1,309.3 137.6,309.7" fill="#33649e" stroke="#33649e" stroke-width="0.3"/>
<text x="387.6" y="25.5" font-size="35" text-anchor="start" fill="#000" >b</text>
<rect x="645" y="149" width="12.8" height="122.6" fill="#dedede"/>
<path d="M651.4,135 L652.99,139.42 L657.68,139.56 L653.97,142.43 L655.28,146.94 L651.4,144.3 L647.52,146.94 L648.83,142.43 L645.12,139.56 L649.81,139.42Z" fill="#ff8a12"/>
<polyline points="424.1,155.96 424.5,155.7 424.9,156.37 425.3,155.82 425.7,156.13 426.1,155.84 426.5,156.22 426.9,156.35 427.3,155.86 427.7,156.02 428.1,155.51 428.5,156.12 428.9,156.31 429.3,155.82 429.7,156.4 430.1,155.28 430.5,155.35 430.9,155.49 431.3,155.76 431.7,155.87 432.1,155.73 432.5,155.58 432.9,155.64 433.3,154.95 433.7,154.37 434.1,154.06 434.5,154.95 434.9,153.2 435.3,153.91 435.7,154.58 436.1,154.45 436.5,154.27 436.9,154.84 437.3,155.38 437.7,155.68 438.1,155.03 438.5,155.59 438.9,155.17 439.3,154.74 439.7,153.09 440.1,149 440.5,143.03 440.9,136.78 441.3,131.46 441.7,129.65 442.1,133.44 442.5,140.92 442.9,146.12 443.3,151.3 443.7,153.28 444.1,154.61 444.5,155 444.9,155.51 445.3,154.31 445.7,153.42 446.1,150.58 446.5,146.38 446.9,138.13 447.3,128.64 447.7,119.9 448.1,118.16 448.5,124.33 448.9,133.54 449.3,143.02 449.7,149.5 450.1,152.85 450.5,154.15 450.9,155.78 451.3,155.83 451.7,156.31 452.1,155.39 452.5,155.61 452.9,155.52 453.3,156.03 453.7,156.75 454.1,156.63 454.5,156.46 454.9,156.55 455.3,156.81 455.7,156.46 456.1,156.73 456.5,156.67 456.9,155.87 457.3,156.52 457.7,157.15 458.1,156.56 458.5,156.66 458.9,156.52 459.3,156.57 459.7,157.15 460.1,156.68 460.5,156.43 460.9,155.71 461.3,156.61 461.7,156.14 462.1,156.2 462.5,157.13 462.9,157.11 463.3,156.2 463.7,157.18 464.1,157.05 464.5,156.63 464.9,157.17 465.3,156.35 465.7,156.51 466.1,156.43 466.5,156.56 466.9,157.26 467.3,156.5 467.7,156.57 468.1,156.65 468.5,157.05 468.9,156.87 469.3,157.3 469.7,156.76 470.1,156.56 470.5,156.84 470.9,157.03 471.3,156.7 471.7,157.13 472.1,157.67 472.5,156.83 472.9,157.05 473.3,157.51 473.7,156.8 474.1,156.73 474.5,156.64 474.9,157.16 475.3,157.19 475.7,156.94 476.1,156.99 476.5,157.39 476.9,157.2 477.3,156.31 477.7,156.57 478.1,156.14 478.5,155.53 478.9,154.03 479.3,152.66 479.7,151.99 480.1,151.74 480.5,153.34 480.9,154.31 481.3,155.62 481.7,155.63 482.1,156.06 482.5,155.88 482.9,155.76 483.3,156.2 483.7,155.55 484.1,155.49 484.5,154.29 484.9,153.38 485.3,149.81 485.7,143.98 486.1,132.27 486.5,114.17 486.9,90.27 487.3,66.99 487.7,54.34 488.1,58.73 488.5,78.24 488.9,102.82 489.3,124.12 489.7,139.11 490.1,148.07 490.5,152.18 490.9,154.47 491.3,155.66 491.7,156.09 492.1,155.99 492.5,155.92 492.9,156.55 493.3,156.68 493.7,157.25 494.1,156.83 494.5,156.99 494.9,157.4 495.3,157.04 495.7,157.21 496.1,157.92 496.5,157.88 496.9,157.62 497.3,157.53 497.7,157.13 498.1,157.69 498.5,157.54 498.9,157.61 499.3,157.36 499.7,157.52 500.1,157.39 500.5,157.36 500.9,157.34 501.3,156.29 501.7,154.74 502.1,154.27 502.5,153.9 502.9,154.7 503.3,156.04 503.7,156.81 504.1,157.05 504.5,157.69 504.9,157.5 505.3,157.35 505.7,157.4 506.1,157.63 506.5,158.45 506.9,157.51 507.3,158.43 507.7,158.48 508.1,157.98 508.5,158.04 508.9,157.86 509.3,158.09 509.7,158.34 510.1,158.13 510.5,158.49 510.9,158.58 511.3,158.3 511.7,158.31 512.1,158.19 512.5,158.35 512.9,157.85 513.3,158.4 513.7,158.34 514.1,157.98 514.5,159.05 514.9,157.97 515.3,158.03 515.7,158.44 516.1,157.68 516.5,158.1 516.9,157.85 517.3,158.06 517.7,158.37 518.1,158.54 518.5,158.83 518.9,158.74 519.3,158.88 519.7,158.69 520.1,158.33 520.5,158.9 520.9,158.35 521.3,158.32 521.7,159.09 522.1,158.84 522.5,158.66 522.9,158.85 523.3,158.91 523.7,158.14 524.1,158.6 524.5,158.23 524.9,158.7 525.3,158.44 525.7,159.16 526.1,158.88 526.5,158.42 526.9,158.71 527.3,158.31 527.7,158.76 528.1,158.95 528.5,158.86 528.9,158.11 529.3,158.67 529.7,158.98 530.1,158.92 530.5,159.23 530.9,158.38 531.3,159.03 531.7,158.62 532.1,158.93 532.5,159.01 532.9,159.11 533.3,158.67 533.7,158.94 534.1,158.46 534.5,158.36 534.9,158.99 535.3,158.62 535.7,157.74 536.1,157.4 536.5,156.84 536.9,156.47 537.3,155.76 537.7,155.87 538.1,155.76 538.5,157.29 538.9,158.25 539.3,158.69 539.7,158.94 540.1,158.81 540.5,159.55 540.9,159.46 541.3,158.9 541.7,158.57 542.1,159.6 542.5,158.64 542.9,159.17 543.3,159.28 543.7,157.96 544.1,157.62 544.5,155.62 544.9,152.43 545.3,146.76 545.7,140.42 546.1,134.15 546.5,132.53 546.9,136.92 547.3,143.21 547.7,149.66 548.1,155.16 548.5,156.66 548.9,157.99 549.3,158.7 549.7,158.56 550.1,158.33 550.5,159.53 550.9,158.96 551.3,159.1 551.7,159.21 552.1,159.04 552.5,159.04 552.9,159.51 553.3,160.32 553.7,159.76 554.1,159.79 554.5,159.03 554.9,159.57 555.3,159.18 555.7,159.89 556.1,159.55 556.5,159.66 556.9,159.64 557.3,159.48 557.7,159.17 558.1,159.92 558.5,159.24 558.9,159.33 559.3,159.65 559.7,159.52 560.1,159.87 560.5,160.14 560.9,159.88 561.3,159.86 561.7,159.81 562.1,160.1 562.5,159.16 562.9,159.93 563.3,159.48 563.7,159.38 564.1,159.81 564.5,159.67 564.9,160 565.3,160.18 565.7,158.97 566.1,159.74 566.5,160.43 566.9,160.01 567.3,160.12 567.7,159.45 568.1,158.46 568.5,157.68 568.9,156.9 569.3,155.23 569.7,153.15 570.1,152.95 570.5,154.13 570.9,155.12 571.3,157.23 571.7,159.04 572.1,159.83 572.5,159.22 572.9,159.77 573.3,158.4 573.7,157.17 574.1,154.83 574.5,153.67 574.9,151.28 575.3,151.75 575.7,152.35 576.1,154.52 576.5,155.94 576.9,158.58 577.3,158.73 577.7,159.15 578.1,158.54 578.5,159.64 578.9,159.6 579.3,158.93 579.7,159 580.1,158.78 580.5,158.29 580.9,156.47 581.3,153.8 581.7,147.04 582.1,137.32 582.5,125.04 582.9,112.29 583.3,106.15 583.7,109.19 584.1,119 584.5,131.35 584.9,142.97 585.3,149.97 585.7,155.12 586.1,157.67 586.5,158.78 586.9,158.75 587.3,159.61 587.7,160.13 588.1,159.45 588.5,159.97 588.9,159.25 589.3,159.17 589.7,160.13 590.1,159.98 590.5,160.08 590.9,159.85 591.3,159.98 591.7,160.4 592.1,160.74 592.5,160.09 592.9,159.61 593.3,160.65 593.7,160.43 594.1,160.48 594.5,160.32 594.9,161.08 595.3,160.31 595.7,160.48 596.1,159.66 596.5,160.12 596.9,160.09 597.3,160.33 597.7,160.48 598.1,160.1 598.5,160.98 598.9,160.01 599.3,160.24 599.7,160.49 600.1,159.97 600.5,160.62 600.9,160.65 601.3,160.33 601.7,161.11 602.1,160.48 602.5,160.56 602.9,160.13 603.3,159.89 603.7,160.26 604.1,160.38 604.5,160.34 604.9,160.77 605.3,159.67 605.7,160.12 606.1,159.88 606.5,161 606.9,160.33 607.3,160.36 607.7,160.16 608.1,160.86 608.5,160.41 608.9,160.64 609.3,159.85 609.7,160.98 610.1,160.71 610.5,160.76 610.9,161.01 611.3,160.51 611.7,160.51 612.1,160.82 612.5,160.71 612.9,160.47 613.3,160.55 613.7,160.31 614.1,160.64 614.5,160.46 614.9,159.6 615.3,159.29 615.7,156.72 616.1,155.74 616.5,155.58 616.9,155.15 617.3,155.98 617.7,158.5 618.1,159.41 618.5,159.55 618.9,160.62 619.3,160.17 619.7,160.13 620.1,160.59 620.5,160.5 620.9,160.3 621.3,160.57 621.7,160.36 622.1,160.74 622.5,160.72 622.9,161 623.3,160.58 623.7,160.28 624.1,160.29 624.5,160.67 624.9,161.29 625.3,161.05 625.7,160.52 626.1,161.07 626.5,160.32 626.9,161.07 627.3,160.55 627.7,160.92 628.1,160.82 628.5,160.39 628.9,160.35 629.3,159.26 629.7,158.32 630.1,156.43 630.5,154.22 630.9,149.61 631.3,147.39 631.7,147.73 632.1,151.4 632.5,153.96 632.9,157.1 633.3,159.29 633.7,159.65 634.1,161.02 634.5,161.04 634.9,160.54 635.3,160.6 635.7,160.38 636.1,160.38 636.5,161.05 636.9,161.14 637.3,161.06 637.7,161.05 638.1,160.78 638.5,161.11 638.9,160.48 639.3,161.01 639.7,161.54 640.1,161.5 640.5,160.88 640.9,160.93 641.3,161.54 641.7,161.69 642.1,160.55 642.5,160.93 642.9,161.17 643.3,161.52 643.7,160.81 644.1,161.33 644.5,161.01 644.9,161.95 645.3,161.27 645.7,161.08 646.1,161.01 646.5,161.5 646.9,161.37 647.3,160.75 647.7,161.19 648.1,160.62 648.5,160.77 648.9,160.47 649.3,160.28 649.7,160.25 650.1,159.82 650.5,160 650.9,159.8 651.3,159.29 651.7,159.04 652.1,159.96 652.5,159.31 652.9,159.7 653.3,160.94 653.7,161.15 654.1,161.41 654.5,161.09 654.9,160.78 655.3,161.07 655.7,161.47 656.1,161.02 656.5,161.05 656.9,160.82 657.3,160.91 657.7,161.62 658.1,161.5 658.5,160.94 658.9,160.97 659.3,161.16 659.7,161.56 660.1,160.96 660.5,161.32 660.9,160.63 661.3,160.95 661.7,161.55 662.1,161.72 662.5,161.01 662.9,161.15 663.3,161.71 663.7,161.3 664.1,161.25 664.5,161.63 664.9,161.52 665.3,161.85 665.7,161.75 666.1,161.27" fill="none" stroke="#9a9a9a" stroke-width="2.0" stroke-linejoin="round" stroke-linecap="butt" />
<polyline points="424.1,168.91 424.5,168.94 424.9,168.48 425.3,168.62 425.7,169.31 426.1,168.42 426.5,169.33 426.9,169.08 427.3,168.94 427.7,169.18 428.1,169.16 428.5,169.42 428.9,168.86 429.3,168.92 429.7,168.91 430.1,169.66 430.5,169.33 430.9,168.67 431.3,168.88 431.7,168.74 432.1,168.99 432.5,169.05 432.9,169.76 433.3,168.29 433.7,169.25 434.1,168.94 434.5,168.33 434.9,168.15 435.3,167.4 435.7,166.71 436.1,166.04 436.5,164.29 436.9,164.92 437.3,164.63 437.7,166.09 438.1,166.64 438.5,167.69 438.9,167.84 439.3,167.86 439.7,166.46 440.1,163.81 440.5,160.49 440.9,155.72 441.3,152.18 441.7,149.76 442.1,153.16 442.5,158.3 442.9,161.97 443.3,165.49 443.7,168.08 444.1,168.64 444.5,168.14 444.9,169.03 445.3,168.85 445.7,168.34 446.1,167.27 446.5,165.32 446.9,161.88 447.3,158.22 447.7,155.49 448.1,154.52 448.5,157.32 448.9,160.3 449.3,163.15 449.7,166.4 450.1,168.04 450.5,168.75 450.9,168.93 451.3,168.75 451.7,169.64 452.1,168.94 452.5,169.46 452.9,169.15 453.3,168.86 453.7,169.8 454.1,168.45 454.5,169.05 454.9,169.51 455.3,169.25 455.7,169.65 456.1,169.37 456.5,169.26 456.9,170.19 457.3,169.36 457.7,169.39 458.1,169.08 458.5,169.21 458.9,169.71 459.3,169.68 459.7,169.5 460.1,169.26 460.5,169.75 460.9,168.92 461.3,169.41 461.7,169.45 462.1,169.25 462.5,169.6 462.9,169.32 463.3,169.28 463.7,170.2 464.1,169.84 464.5,170 464.9,169.61 465.3,169.93 465.7,169.88 466.1,170.03 466.5,170.44 466.9,169.54 467.3,169.72 467.7,169.61 468.1,168.41 468.5,169.15 468.9,169.65 469.3,169.87 469.7,169.45 470.1,170.06 470.5,170.11 470.9,169.52 471.3,170.17 471.7,170.29 472.1,169.84 472.5,169.33 472.9,170.19 473.3,169.62 473.7,169.54 474.1,169.71 474.5,169.47 474.9,170.03 475.3,169.91 475.7,170.04 476.1,169.79 476.5,169.23 476.9,169.29 477.3,169.25 477.7,167.99 478.1,167.79 478.5,164.86 478.9,163.01 479.3,162.87 479.7,163.47 480.1,164.92 480.5,166.65 480.9,168.24 481.3,169.18 481.7,169.53 482.1,169.31 482.5,169.61 482.9,169.75 483.3,169.69 483.7,168.29 484.1,168.97 484.5,168.86 484.9,168.75 485.3,168.21 485.7,166.86 486.1,163.41 486.5,157.34 486.9,149.33 487.3,141.63 487.7,135.97 488.1,138.03 488.5,145.58 488.9,153.72 489.3,159.97 489.7,165.35 490.1,167.47 490.5,168.64 490.9,169.52 491.3,169.54 491.7,169.42 492.1,169.92 492.5,169.84 492.9,169.78 493.3,169.9 493.7,169.92 494.1,169.75 494.5,169.74 494.9,169.93 495.3,169.61 495.7,169.52 496.1,170.43 496.5,169.91 496.9,170 497.3,169.97 497.7,170.03 498.1,170.03 498.5,170.05 498.9,169.74 499.3,170.34 499.7,169.73 500.1,170.23 500.5,168.94 500.9,168.72 501.3,168.61 501.7,167.19 502.1,166.15 502.5,166.31 502.9,166.42 503.3,167.83 503.7,168.01 504.1,169.32 504.5,169.64 504.9,170.25 505.3,170.45 505.7,169.89 506.1,170.78 506.5,170.03 506.9,169.54 507.3,169.44 507.7,170.83 508.1,170.27 508.5,170.09 508.9,170.06 509.3,169.95 509.7,170.82 510.1,170.33 510.5,170.99 510.9,170.31 511.3,169.56 511.7,170.69 512.1,170.28 512.5,170.33 512.9,170.97 513.3,170.34 513.7,170.85 514.1,170.45 514.5,170.2 514.9,170.64 515.3,170.27 515.7,170.91 516.1,170.83 516.5,170.52 516.9,170.72 517.3,170.72 517.7,170.43 518.1,170.85 518.5,170.46 518.9,170.77 519.3,170.23 519.7,170.6 520.1,170.72 520.5,170.31 520.9,170.45 521.3,170.41 521.7,170.86 522.1,170.36 522.5,170.78 522.9,171.16 523.3,170.76 523.7,170.08 524.1,170.7 524.5,171.03 524.9,170.57 525.3,171.07 525.7,170.9 526.1,170.84 526.5,170.61 526.9,170.53 527.3,170.62 527.7,170.74 528.1,170.91 528.5,170.88 528.9,170.64 529.3,170.77 529.7,170.89 530.1,170.19 530.5,170.5 530.9,170.49 531.3,170.71 531.7,170.69 532.1,170.7 532.5,170.48 532.9,171.03 533.3,170.89 533.7,170.21 534.1,170.78 534.5,170.35 534.9,171.27 535.3,170.34 535.7,170.01 536.1,169.61 536.5,168.81 536.9,168.28 537.3,168.7 537.7,168.64 538.1,169.55 538.5,170.31 538.9,170.04 539.3,171.23 539.7,171 540.1,171.14 540.5,170.52 540.9,171.11 541.3,170.96 541.7,170.61 542.1,171.58 542.5,170.94 542.9,170.61 543.3,170.66 543.7,170.7 544.1,170.26 544.5,168.87 544.9,166.75 545.3,163.09 545.7,157.51 546.1,153.88 546.5,152.78 546.9,155.82 547.3,160.83 547.7,164.9 548.1,167.38 548.5,169.37 548.9,170.64 549.3,170.45 549.7,170.76 550.1,170.99 550.5,170.31 550.9,171.26 551.3,171.15 551.7,171.26 552.1,170.75 552.5,170.84 552.9,170.92 553.3,171.24 553.7,171.19 554.1,171.23 554.5,171.82 554.9,171.67 555.3,170.97 555.7,171 556.1,171.84 556.5,171.14 556.9,171.75 557.3,171.83 557.7,171.09 558.1,171.2 558.5,171.33 558.9,171 559.3,170.97 559.7,171.18 560.1,171.63 560.5,171.18 560.9,171.27 561.3,171.18 561.7,170.87 562.1,171.87 562.5,170.54 562.9,171.13 563.3,171.56 563.7,170.88 564.1,171.57 564.5,171.8 564.9,171.05 565.3,171.42 565.7,170.94 566.1,171.49 566.5,171.31 566.9,171.3 567.3,171.59 567.7,170.99 568.1,170.64 568.5,169.1 568.9,166.4 569.3,164.37 569.7,162.32 570.1,161.11 570.5,163.53 570.9,165.56 571.3,168.01 571.7,169.2 572.1,170.41 572.5,170.76 572.9,170.32 573.3,169.67 573.7,167.39 574.1,166.43 574.5,163.27 574.9,161.55 575.3,162.48 575.7,164.51 576.1,167.35 576.5,168.75 576.9,170.35 577.3,170.51 577.7,171.86 578.1,171.36 578.5,171.86 578.9,170.79 579.3,171.32 579.7,170.65 580.1,171.01 580.5,170.68 580.9,169.04 581.3,167.22 581.7,163.09 582.1,155.82 582.5,146.16 582.9,135.84 583.3,129.72 583.7,132.4 584.1,141.32 584.5,151.24 584.9,160.23 585.3,166.02 585.7,168.87 586.1,170.04 586.5,171.15 586.9,171.44 587.3,171.55 587.7,171.36 588.1,172.22 588.5,172.21 588.9,171.53 589.3,171.68 589.7,172.18 590.1,171.52 590.5,171.97 590.9,171.88 591.3,171.65 591.7,171.84 592.1,171.39 592.5,171.77 592.9,171.28 593.3,172.79 593.7,172.54 594.1,172.46 594.5,172.15 594.9,172.41 595.3,172.52 595.7,172.44 596.1,172.42 596.5,171.79 596.9,172.27 597.3,171.94 597.7,171.73 598.1,171.75 598.5,172.31 598.9,172.53 599.3,171.69 599.7,172.79 600.1,172.69 600.5,172.04 600.9,172 601.3,172.08 601.7,172.31 602.1,171.57 602.5,170.91 602.9,170.95 603.3,169.78 603.7,170.56 604.1,171.27 604.5,171.45 604.9,172.04 605.3,172.22 605.7,172.46 606.1,172.33 606.5,172.03 606.9,172.26 607.3,172.33 607.7,172.81 608.1,172.95 608.5,172.54 608.9,172.13 609.3,172.15 609.7,172.35 610.1,172.91 610.5,172.55 610.9,172.41 611.3,172.17 611.7,172.75 612.1,172.54 612.5,172.42 612.9,172.47 613.3,173.02 613.7,172.34 614.1,172.91 614.5,172.56 614.9,171.71 615.3,171.23 615.7,169.78 616.1,168.38 616.5,167.9 616.9,167.93 617.3,169.43 617.7,170.45 618.1,171.61 618.5,172.31 618.9,171.24 619.3,172.59 619.7,171.91 620.1,172.63 620.5,172.29 620.9,172.65 621.3,173.11 621.7,172.05 622.1,172.72 622.5,172.64 622.9,172.01 623.3,172.91 623.7,172.7 624.1,172.51 624.5,172.44 624.9,173.82 625.3,172.56 625.7,172.06 626.1,172.36 626.5,172.55 626.9,172.53 627.3,172.61 627.7,172.24 628.1,172.73 628.5,172.26 628.9,171.68 629.3,171.21 629.7,169.96 630.1,167.87 630.5,164.18 630.9,160.16 631.3,158.09 631.7,158.96 632.1,162.82 632.5,165.72 632.9,169.21 633.3,171.26 633.7,171.66 634.1,172.51 634.5,172.69 634.9,172.57 635.3,173 635.7,173.2 636.1,173.28 636.5,172.84 636.9,173 637.3,173.78 637.7,172.6 638.1,173.08 638.5,173.33 638.9,173.09 639.3,173.28 639.7,173.12 640.1,173.34 640.5,173.54 640.9,173.02 641.3,173.18 641.7,173.1 642.1,172.99 642.5,173.13 642.9,172.75 643.3,173.42 643.7,173.76 644.1,173.77 644.5,173.63 644.9,172.85 645.3,173.73 645.7,172.95 646.1,173.19 646.5,173.86 646.9,172.84 647.3,173.5 647.7,173.29 648.1,173.11 648.5,172.78 648.9,173.1 649.3,172.57 649.7,172.77 650.1,172.42 650.5,171.07 650.9,171 651.3,170.88 651.7,170.66 652.1,170.99 652.5,171.85 652.9,172.2 653.3,172.09 653.7,172.77 654.1,173.33 654.5,172.85 654.9,173.02 655.3,173.94 655.7,173.87 656.1,172.86 656.5,172.97 656.9,173.59 657.3,173.05 657.7,173.4 658.1,173.34 658.5,173.7 658.9,172.63 659.3,172.76 659.7,173.11 660.1,173.9 660.5,173.51 660.9,172.97 661.3,173.75 661.7,173.84 662.1,173.51 662.5,173.49 662.9,173.77 663.3,174.05 663.7,173.69 664.1,173.83 664.5,173.64 664.9,173.53 665.3,173.35 665.7,173.77 666.1,173.58" fill="none" stroke="#5e5d9e" stroke-width="2.0" stroke-linejoin="round" stroke-linecap="butt" />
<polyline points="424.1,182.39 424.5,182.81 424.9,182.67 425.3,182.81 425.7,181.96 426.1,182.72 426.5,182.33 426.9,182.26 427.3,182.25 427.7,182.98 428.1,182.86 428.5,182.32 428.9,182.18 429.3,182.59 429.7,182.43 430.1,183.18 430.5,182.09 430.9,181.97 431.3,182.52 431.7,182.62 432.1,182.66 432.5,182.88 432.9,183.34 433.3,182.48 433.7,182.4 434.1,181.96 434.5,182.64 434.9,182.82 435.3,182.37 435.7,182.74 436.1,182.03 436.5,181.84 436.9,179.94 437.3,176.95 437.7,173.78 438.1,170.32 438.5,168.87 438.9,170.9 439.3,174.18 439.7,177.7 440.1,179.15 440.5,179.97 440.9,179.5 441.3,179.47 441.7,178.39 442.1,177.58 442.5,178.27 442.9,179.1 443.3,179.37 443.7,181.33 444.1,181.9 444.5,182.22 444.9,182.49 445.3,183.4 445.7,183.4 446.1,183.55 446.5,182.55 446.9,182.75 447.3,183.32 447.7,182.6 448.1,182.79 448.5,182.43 448.9,183.73 449.3,183.47 449.7,183.27 450.1,183.2 450.5,182.99 450.9,183.01 451.3,183.38 451.7,182.93 452.1,183.62 452.5,183.03 452.9,182.91 453.3,183.68 453.7,183.19 454.1,183.45 454.5,183.12 454.9,182.49 455.3,183.48 455.7,182.83 456.1,183.69 456.5,182.78 456.9,182.68 457.3,183.45 457.7,183.5 458.1,183.4 458.5,182.95 458.9,183.7 459.3,182.88 459.7,183.24 460.1,183.14 460.5,183.3 460.9,183.74 461.3,183.23 461.7,183.66 462.1,183.71 462.5,182.88 462.9,183.08 463.3,183.37 463.7,183.3 464.1,183.63 464.5,182.85 464.9,183.79 465.3,183.81 465.7,183.5 466.1,183.08 466.5,183.57 466.9,183.38 467.3,183.77 467.7,183.55 468.1,183.83 468.5,183.43 468.9,184.09 469.3,182.78 469.7,183.23 470.1,183.76 470.5,183.06 470.9,183.85 471.3,183.16 471.7,183.62 472.1,183.27 472.5,183.43 472.9,183.65 473.3,183.54 473.7,183.44 474.1,184.32 474.5,183.56 474.9,183.21 475.3,183.86 475.7,183.81 476.1,183.93 476.5,184.1 476.9,183.1 477.3,183.76 477.7,183.72 478.1,183.22 478.5,183.11 478.9,181.53 479.3,181.33 479.7,179.92 480.1,174.67 480.5,169.45 480.9,163.82 481.3,160.44 481.7,162.06 482.1,165.96 482.5,172.65 482.9,177.85 483.3,180.16 483.7,182.17 484.1,183.54 484.5,183.63 484.9,183.5 485.3,182.47 485.7,183.39 486.1,183.61 486.5,183.38 486.9,183.46 487.3,184.49 487.7,183.12 488.1,182.38 488.5,181.94 488.9,180.5 489.3,179.2 489.7,178.52 490.1,179.11 490.5,180.06 490.9,180.91 491.3,182.38 491.7,183.29 492.1,183.31 492.5,184.04 492.9,183.98 493.3,183.4 493.7,183.89 494.1,184.49 494.5,184.36 494.9,183.8 495.3,184.15 495.7,183.61 496.1,183.35 496.5,184.06 496.9,183.96 497.3,184.06 497.7,183.88 498.1,184.01 498.5,183.72 498.9,184.08 499.3,184.21 499.7,183.9 500.1,184.21 500.5,183.31 500.9,183.66 501.3,184.45 501.7,184.57 502.1,184.04 502.5,183.93 502.9,183.52 503.3,184.1 503.7,184.25 504.1,183.46 504.5,184.18 504.9,184.16 505.3,184.15 505.7,183.61 506.1,184.2 506.5,183.49 506.9,184.54 507.3,184.07 507.7,183.62 508.1,184.5 508.5,184.44 508.9,183.81 509.3,184.81 509.7,183.7 510.1,184.16 510.5,184.47 510.9,183.27 511.3,184.41 511.7,184.05 512.1,184.07 512.5,183.7 512.9,184.2 513.3,183.7 513.7,183.75 514.1,183.94 514.5,183.67 514.9,184.65 515.3,183.64 515.7,183.85 516.1,184 516.5,184.12 516.9,184.4 517.3,184.41 517.7,184.03 518.1,184 518.5,184.15 518.9,184.43 519.3,184.39 519.7,183.97 520.1,183.44 520.5,184.91 520.9,184.5 521.3,184.26 521.7,184.29 522.1,183.99 522.5,183.83 522.9,184.07 523.3,184.11 523.7,183.97 524.1,183.68 524.5,184.09 524.9,184.4 525.3,184.03 525.7,184.21 526.1,183.49 526.5,184.14 526.9,184.17 527.3,183.79 527.7,183.62 528.1,184.37 528.5,183.94 528.9,184.4 529.3,184.08 529.7,184.45 530.1,184.11 530.5,183.7 530.9,184.2 531.3,184.12 531.7,184.46 532.1,184.07 532.5,184.08 532.9,184.51 533.3,184.61 533.7,184.46 534.1,184.54 534.5,184.31 534.9,184.39 535.3,184.38 535.7,184.12 536.1,183.77 536.5,183.27 536.9,182.92 537.3,180.05 537.7,177.08 538.1,174.01 538.5,172.36 538.9,173.09 539.3,175.21 539.7,178.01 540.1,181.32 540.5,182.22 540.9,183.68 541.3,183.99 541.7,184.5 542.1,184.76 542.5,184.35 542.9,184.06 543.3,183.87 543.7,184.03 544.1,184.34 544.5,183.61 544.9,184.38 545.3,184.36 545.7,184.6 546.1,184.27 546.5,184.43 546.9,184.14 547.3,184.24 547.7,183.79 548.1,184.46 548.5,184.97 548.9,184.49 549.3,184.57 549.7,184.1 550.1,184.95 550.5,184.19 550.9,184.74 551.3,184.5 551.7,184.13 552.1,184.83 552.5,184.48 552.9,184.54 553.3,184.64 553.7,184.48 554.1,184.36 554.5,184.66 554.9,184.36 555.3,184.53 555.7,184.27 556.1,183.99 556.5,184.28 556.9,184.34 557.3,184.52 557.7,184.94 558.1,183.93 558.5,184.57 558.9,183.75 559.3,184.16 559.7,184.35 560.1,183.74 560.5,183.88 560.9,184.59 561.3,184.56 561.7,184.49 562.1,184.25 562.5,185.28 562.9,184.46 563.3,184.22 563.7,185.1 564.1,184.72 564.5,184.37 564.9,184.9 565.3,184.53 565.7,184.69 566.1,184.52 566.5,184.06 566.9,184.73 567.3,184.41 567.7,183.95 568.1,183.96 568.5,184.43 568.9,183.7 569.3,183.22 569.7,182.05 570.1,179.29 570.5,174.83 570.9,171.16 571.3,168.05 571.7,168 572.1,171.4 572.5,175.33 572.9,179.27 573.3,182.02 573.7,182.59 574.1,183.66 574.5,183.32 574.9,181.69 575.3,179.11 575.7,173.41 576.1,165.21 576.5,157.95 576.9,152.99 577.3,154.72 577.7,161.51 578.1,170.13 578.5,176.49 578.9,180.21 579.3,182.75 579.7,183.78 580.1,183.67 580.5,183.97 580.9,184.11 581.3,184.12 581.7,184.52 582.1,184.81 582.5,185.16 582.9,184.96 583.3,184.93 583.7,185 584.1,185.09 584.5,184.51 584.9,184.9 585.3,184.78 585.7,184.64 586.1,184.54 586.5,184.53 586.9,184.63 587.3,184.3 587.7,184.92 588.1,184.74 588.5,184.79 588.9,184.88 589.3,185.03 589.7,184.57 590.1,184.75 590.5,184.23 590.9,184.02 591.3,184.12 591.7,185.35 592.1,184.17 592.5,184.98 592.9,185.34 593.3,184.67 593.7,185.4 594.1,185.48 594.5,185.17 594.9,185.67 595.3,185.06 595.7,184.59 596.1,185.04 596.5,184.7 596.9,184.4 597.3,184.42 597.7,185.67 598.1,184.68 598.5,184.86 598.9,184.64 599.3,184.92 599.7,184.79 600.1,184.73 600.5,184.44 600.9,184.37 601.3,184.6 601.7,184.95 602.1,185.56 602.5,185.16 602.9,185.36 603.3,184.75 603.7,184.32 604.1,183.54 604.5,183.53 604.9,182.22 605.3,182.33 605.7,182.62 606.1,182.08 606.5,182.61 606.9,182.57 607.3,182.78 607.7,183.62 608.1,184.07 608.5,184.92 608.9,185.38 609.3,184.53 609.7,184.71 610.1,184.82 610.5,184.76 610.9,184.45 611.3,184.92 611.7,185.01 612.1,185.01 612.5,184.45 612.9,184.82 613.3,184.23 613.7,185.13 614.1,184.42 614.5,184.63 614.9,184.5 615.3,184.33 615.7,183.91 616.1,183.05 616.5,182.89 616.9,179.64 617.3,175.27 617.7,170.51 618.1,165.21 618.5,164.33 618.9,167.26 619.3,172.95 619.7,177.76 620.1,181.26 620.5,183.06 620.9,184.19 621.3,184.9 621.7,183.95 622.1,184.73 622.5,184.7 622.9,184.79 623.3,184.24 623.7,185.22 624.1,184.7 624.5,184.93 624.9,184.86 625.3,184.46 625.7,184.91 626.1,184.43 626.5,184.76 626.9,184.99 627.3,185.11 627.7,185.14 628.1,185.08 628.5,185.88 628.9,185.29 629.3,184.72 629.7,184.94 630.1,184.93 630.5,185.1 630.9,184.96 631.3,184.88 631.7,185.76 632.1,185.2 632.5,185.07 632.9,185.11 633.3,185.12 633.7,185.69 634.1,185.38 634.5,185.61 634.9,184.13 635.3,185.34 635.7,185.6 636.1,185.92 636.5,185.24 636.9,184.64 637.3,185.45 637.7,185.04 638.1,184.62 638.5,185.04 638.9,185.63 639.3,185.68 639.7,185.52 640.1,184.9 640.5,186.15 640.9,184.86 641.3,185.25 641.7,184.77 642.1,185.74 642.5,185.44 642.9,185.6 643.3,185.32 643.7,185.27 644.1,185.35 644.5,184.63 644.9,185.64 645.3,185.61 645.7,185.16 646.1,185.29 646.5,185.39 646.9,185.84 647.3,185.43 647.7,185.28 648.1,185.06 648.5,184.65 648.9,184.86 649.3,184.91 649.7,184.49 650.1,184.16 650.5,183.84 650.9,183.14 651.3,182.57 651.7,182.45 652.1,182.38 652.5,182.71 652.9,183.46 653.3,183.29 653.7,184.85 654.1,184.34 654.5,185.33 654.9,185.2 655.3,185.66 655.7,185.34 656.1,185.02 656.5,185.74 656.9,185.45 657.3,185.43 657.7,185.43 658.1,185.76 658.5,185.7 658.9,185.5 659.3,184.89 659.7,185.29 660.1,185.48 660.5,186.08 660.9,185.59 661.3,185.43 661.7,185.88 662.1,185.43 662.5,185.46 662.9,185.53 663.3,184.96 663.7,185.82 664.1,185.64 664.5,185.39 664.9,185.1 665.3,185.58 665.7,185.99 666.1,185.28" fill="none" stroke="#3cc46f" stroke-width="2.0" stroke-linejoin="round" stroke-linecap="butt" />
<polyline points="424.1,245.81 424.5,246.34 424.9,245.63 425.3,245.42 425.7,246.04 426.1,245.96 426.5,246.11 426.9,246.01 427.3,246.32 427.7,246.13 428.1,246 428.5,246.05 428.9,246.44 429.3,246.55 429.7,246.54 430.1,246.47 430.5,245.07 430.9,245.87 431.3,246.11 431.7,246.29 432.1,245.66 432.5,246.72 432.9,246.33 433.3,246 433.7,246.27 434.1,246.09 434.5,245.94 434.9,246.37 435.3,246.03 435.7,245.68 436.1,245.94 436.5,246.1 436.9,245.74 437.3,246.53 437.7,245.68 438.1,246.62 438.5,246.26 438.9,245.52 439.3,245.71 439.7,245.68 440.1,244.25 440.5,241.87 440.9,238.72 441.3,234.28 441.7,227.72 442.1,225.29 442.5,226.2 442.9,230.72 443.3,236.05 443.7,240.46 444.1,243.66 444.5,244.86 444.9,244.85 445.3,245.9 445.7,244.85 446.1,245.25 446.5,244.26 446.9,242.67 447.3,238.49 447.7,232.51 448.1,224.43 448.5,218.31 448.9,216.52 449.3,221.61 449.7,228.18 450.1,236.07 450.5,240.92 450.9,243.69 451.3,244.78 451.7,245.71 452.1,245.3 452.5,245.48 452.9,246.31 453.3,245.59 453.7,246.7 454.1,246.14 454.5,246.37 454.9,246.34 455.3,246.49 455.7,246.27 456.1,246.26 456.5,246.36 456.9,246.79 457.3,246.83 457.7,246.89 458.1,246.59 458.5,246.4 458.9,245.89 459.3,246.72 459.7,246.79 460.1,246.37 460.5,246.8 460.9,246.97 461.3,246.56 461.7,246.91 462.1,246.65 462.5,245.94 462.9,246.39 463.3,246.42 463.7,246.75 464.1,246.27 464.5,246.42 464.9,246.24 465.3,246.57 465.7,246.61 466.1,246.93 466.5,246.88 466.9,246.66 467.3,246.69 467.7,246.65 468.1,246.65 468.5,247.16 468.9,245.75 469.3,246.56 469.7,246.73 470.1,247.02 470.5,246.24 470.9,246.75 471.3,246.93 471.7,246.47 472.1,245.96 472.5,246.5 472.9,246.21 473.3,246.86 473.7,246.33 474.1,247.25 474.5,246.67 474.9,246.34 475.3,246.44 475.7,246.23 476.1,246.74 476.5,247.12 476.9,246.52 477.3,246.91 477.7,246.24 478.1,246.67 478.5,247.35 478.9,246.04 479.3,246.94 479.7,246.9 480.1,245.8 480.5,245.93 480.9,246.05 481.3,246.69 481.7,246.15 482.1,246.17 482.5,246.4 482.9,246.1 483.3,246.02 483.7,245.67 484.1,245.98 484.5,245.03 484.9,245.44 485.3,243.85 485.7,241.77 486.1,238.13 486.5,230.02 486.9,215.88 487.3,198.59 487.7,178.96 488.1,166.08 488.5,166.65 488.9,179.14 489.3,198.66 489.7,216.47 490.1,230.57 490.5,237.91 490.9,241.69 491.3,243.64 491.7,244.6 492.1,245.42 492.5,245.66 492.9,246.21 493.3,246.09 493.7,246.2 494.1,246.38 494.5,246.3 494.9,246.52 495.3,246.75 495.7,246.8 496.1,246.38 496.5,245.99 496.9,246.36 497.3,246.77 497.7,245.82 498.1,246.54 498.5,246.88 498.9,246.53 499.3,246.34 499.7,247.33 500.1,247.16 500.5,246.46 500.9,246.77 501.3,246.34 501.7,244.86 502.1,245.43 502.5,243.45 502.9,243.31 503.3,243.16 503.7,244.17 504.1,244.47 504.5,245.65 504.9,246.58 505.3,246.62 505.7,246.64 506.1,247.37 506.5,246.56 506.9,247.24 507.3,246.8 507.7,246.98 508.1,246.91 508.5,246.9 508.9,246.76 509.3,246.34 509.7,246.14 510.1,246.07 510.5,245.31 510.9,244.26 511.3,243.77 511.7,243.32 512.1,243.45 512.5,243.83 512.9,244.4 513.3,244.83 513.7,245.71 514.1,245.74 514.5,245.57 514.9,246.79 515.3,246.36 515.7,246.68 516.1,246.63 516.5,247.3 516.9,246.68 517.3,247.21 517.7,246.95 518.1,246.7 518.5,246.59 518.9,247.32 519.3,247.3 519.7,247.44 520.1,247.82 520.5,247.28 520.9,247.29 521.3,247.15 521.7,247.24 522.1,247.08 522.5,246.9 522.9,247.92 523.3,246.57 523.7,247.32 524.1,247.39 524.5,247.29 524.9,246.91 525.3,247.18 525.7,247.09 526.1,246.88 526.5,247.24 526.9,247.12 527.3,247.07 527.7,247.51 528.1,246.91 528.5,247.43 528.9,247.07 529.3,247.44 529.7,247.32 530.1,247.38 530.5,246.96 530.9,247.03 531.3,247.01 531.7,247.37 532.1,247.57 532.5,247.69 532.9,247.14 533.3,247.35 533.7,246.76 534.1,246.55 534.5,247.02 534.9,247.1 535.3,246.79 535.7,246.71 536.1,247.52 536.5,247.05 536.9,246.75 537.3,248.15 537.7,247.39 538.1,247.22 538.5,247.57 538.9,247.06 539.3,247.88 539.7,246.78 540.1,246.86 540.5,247.25 540.9,247.02 541.3,247.77 541.7,246.7 542.1,246.98 542.5,247.29 542.9,247.36 543.3,247.46 543.7,247.15 544.1,247.66 544.5,246.45 544.9,246 545.3,244.72 545.7,241.31 546.1,236.52 546.5,230.55 546.9,225.52 547.3,224.13 547.7,227.74 548.1,233.19 548.5,239.4 548.9,242.62 549.3,246.09 549.7,246.99 550.1,247.22 550.5,246.96 550.9,246.94 551.3,247.65 551.7,247.34 552.1,247.51 552.5,247.1 552.9,247.75 553.3,247.13 553.7,247.46 554.1,246.84 554.5,247.23 554.9,247.65 555.3,247.33 555.7,247.34 556.1,247.78 556.5,247.49 556.9,247.96 557.3,246.69 557.7,247.74 558.1,247.73 558.5,247.02 558.9,247.11 559.3,247.88 559.7,247.2 560.1,247.36 560.5,247.8 560.9,247.48 561.3,247.76 561.7,247.3 562.1,247.71 562.5,247.99 562.9,247.73 563.3,246.86 563.7,247.85 564.1,247.65 564.5,247.32 564.9,248.12 565.3,247.03 565.7,248.3 566.1,247.43 566.5,248.2 566.9,247.64 567.3,247.19 567.7,247.69 568.1,247.78 568.5,247.85 568.9,248.04 569.3,247.36 569.7,247.84 570.1,247.93 570.5,247.58 570.9,247.35 571.3,247.34 571.7,247.93 572.1,247.95 572.5,247.38 572.9,247.2 573.3,248.1 573.7,247.12 574.1,247.71 574.5,247.37 574.9,247.03 575.3,247.68 575.7,247.56 576.1,248.12 576.5,248.39 576.9,247.52 577.3,247.92 577.7,247.9 578.1,247.32 578.5,247.16 578.9,247.98 579.3,247.23 579.7,247.26 580.1,247.07 580.5,246.98 580.9,246.57 581.3,246.58 581.7,245.73 582.1,242.95 582.5,238.32 582.9,231.74 583.3,221.58 583.7,211.7 584.1,205.39 584.5,205.78 584.9,212.07 585.3,221.75 585.7,232.02 586.1,238.06 586.5,242.89 586.9,245.88 587.3,246.64 587.7,246.38 588.1,246.53 588.5,247.56 588.9,247.36 589.3,247.26 589.7,247.68 590.1,247.39 590.5,246.97 590.9,247.96 591.3,247.49 591.7,247.4 592.1,247.31 592.5,247.88 592.9,247.54 593.3,248.05 593.7,247.76 594.1,248.24 594.5,247.75 594.9,247.67 595.3,247.22 595.7,247.54 596.1,248.18 596.5,249 596.9,247.51 597.3,247.6 597.7,248.09 598.1,248.14 598.5,247.75 598.9,248.02 599.3,247.44 599.7,247.9 600.1,248.33 600.5,248.59 600.9,247.97 601.3,247.94 601.7,248.2 602.1,248.43 602.5,248.22 602.9,247.8 603.3,248.19 603.7,248.41 604.1,247.83 604.5,247.61 604.9,248.26 605.3,248.22 605.7,248.43 606.1,248.13 606.5,247.88 606.9,247.96 607.3,247.76 607.7,247.79 608.1,247.93 608.5,247.96 608.9,248.52 609.3,247.71 609.7,248.13 610.1,247.95 610.5,248.67 610.9,248.25 611.3,248.04 611.7,248.45 612.1,248.2 612.5,248.01 612.9,248.72 613.3,248.44 613.7,248.79 614.1,248.6 614.5,248.47 614.9,248.25 615.3,247.83 615.7,248.46 616.1,248.24 616.5,248.46 616.9,248.22 617.3,247.99 617.7,247.88 618.1,248.48 618.5,248.69 618.9,248.14 619.3,248.41 619.7,248.73 620.1,247.96 620.5,248.14 620.9,247.87 621.3,248.67 621.7,248.36 622.1,248.11 622.5,247.69 622.9,248.21 623.3,248.62 623.7,248.17 624.1,248.13 624.5,248.49 624.9,247.84 625.3,248.29 625.7,248.47 626.1,247.99 626.5,247.96 626.9,248.32 627.3,248.19 627.7,248.12 628.1,248.24 628.5,248.2 628.9,247.73 629.3,247.66 629.7,247.67 630.1,247.03 630.5,245.4 630.9,241.89 631.3,239.18 631.7,236.22 632.1,235.26 632.5,237.39 632.9,240.83 633.3,244.33 633.7,245.58 634.1,247.42 634.5,247.75 634.9,247.98 635.3,248.57 635.7,248.52 636.1,247.92 636.5,248.21 636.9,248.42 637.3,247.87 637.7,248.68 638.1,248.37 638.5,248.46 638.9,248.54 639.3,249.06 639.7,248.45 640.1,248.32 640.5,249.06 640.9,248.29 641.3,248.29 641.7,248 642.1,248.86 642.5,248.58 642.9,248.66 643.3,248.56 643.7,248.46 644.1,248.24 644.5,248.24 644.9,248.67 645.3,248.56 645.7,249.09 646.1,248.26 646.5,248.35 646.9,248.17 647.3,248.99 647.7,248.07 648.1,248.73 648.5,248.89 648.9,248.22 649.3,248.31 649.7,247.03 650.1,247.26 650.5,246.42 650.9,246.72 651.3,246.49 651.7,246.28 652.1,247.16 652.5,247.34 652.9,247.44 653.3,247.79 653.7,247.72 654.1,248.34 654.5,249.24 654.9,248.32 655.3,248.74 655.7,248.43 656.1,248.91 656.5,248.8 656.9,248.57 657.3,248.04 657.7,248.49 658.1,249.09 658.5,248.6 658.9,248.91 659.3,248.53 659.7,248.06 660.1,248.85 660.5,248.82 660.9,248.52 661.3,248.6 661.7,248.83 662.1,248.53 662.5,248.86 662.9,248.67 663.3,247.93 663.7,248.7 664.1,248.55 664.5,248.47 664.9,248.91 665.3,248.6 665.7,248.96 666.1,249.16" fill="none" stroke="#fcbc14" stroke-width="2.0" stroke-linejoin="round" stroke-linecap="butt" />
<polyline points="424.1,255.63 424.5,255.05 424.9,255.33 425.3,255.9 425.7,255.5 426.1,255.31 426.5,255.56 426.9,255.77 427.3,255.69 427.7,255.83 428.1,255.32 428.5,255.51 428.9,255.52 429.3,255.6 429.7,254.89 430.1,255.53 430.5,255.15 430.9,256.1 431.3,256.16 431.7,256.2 432.1,255.9 432.5,255.45 432.9,255.96 433.3,255.55 433.7,255.83 434.1,255.31 434.5,255.42 434.9,255.78 435.3,256.23 435.7,255.6 436.1,256.39 436.5,256.55 436.9,255.15 437.3,255.57 437.7,255.23 438.1,255.49 438.5,255.32 438.9,255.44 439.3,255.71 439.7,255.49 440.1,254.78 440.5,253.67 440.9,251.9 441.3,249.33 441.7,246.79 442.1,245.01 442.5,245.74 442.9,247.42 443.3,250.89 443.7,253.45 444.1,254.29 444.5,254.43 444.9,255.67 445.3,255.19 445.7,254.27 446.1,255.14 446.5,255.14 446.9,254.37 447.3,253.29 447.7,250.85 448.1,247.92 448.5,244.88 448.9,244.62 449.3,246.67 449.7,249.56 450.1,251.56 450.5,253.53 450.9,254.94 451.3,254.6 451.7,254.8 452.1,255.49 452.5,255.71 452.9,255.49 453.3,254.89 453.7,255.72 454.1,255.27 454.5,255.97 454.9,255.72 455.3,255.86 455.7,256 456.1,255.61 456.5,256.09 456.9,256.24 457.3,255.95 457.7,256.28 458.1,255.61 458.5,256.15 458.9,255.93 459.3,255.5 459.7,255.82 460.1,255.67 460.5,255.67 460.9,255.9 461.3,256.24 461.7,255.76 462.1,255.92 462.5,255.37 462.9,255.92 463.3,256.29 463.7,256.18 464.1,256.06 464.5,255.72 464.9,255.57 465.3,255.88 465.7,255.45 466.1,255.49 466.5,256.25 466.9,255.6 467.3,256.55 467.7,255.43 468.1,256.08 468.5,255.53 468.9,256 469.3,255.58 469.7,255.96 470.1,255.89 470.5,255.79 470.9,256.13 471.3,256.48 471.7,255.75 472.1,256.27 472.5,255.99 472.9,255.95 473.3,256.73 473.7,255.22 474.1,255.73 474.5,255.34 474.9,255.86 475.3,255.9 475.7,257.3 476.1,256.1 476.5,256.6 476.9,256.43 477.3,255.82 477.7,256.14 478.1,256.55 478.5,256.03 478.9,256.05 479.3,256.14 479.7,255.44 480.1,255.68 480.5,256.07 480.9,256.14 481.3,255.62 481.7,255.82 482.1,255.87 482.5,255.84 482.9,256.11 483.3,255.88 483.7,255.86 484.1,255.27 484.5,255.33 484.9,255.71 485.3,254.86 485.7,255.11 486.1,253.85 486.5,251.79 486.9,248.63 487.3,242.76 487.7,236.64 488.1,232.38 488.5,232.63 488.9,237.9 489.3,242.28 489.7,248.41 490.1,252.01 490.5,254.44 490.9,254.92 491.3,254.6 491.7,256.1 492.1,255.37 492.5,255.8 492.9,255.4 493.3,255.53 493.7,255.78 494.1,256.27 494.5,256.29 494.9,255.81 495.3,256.21 495.7,255.92 496.1,256.1 496.5,256.12 496.9,256.29 497.3,255.87 497.7,256.04 498.1,256.16 498.5,256.12 498.9,255.8 499.3,256.67 499.7,255.88 500.1,256.25 500.5,255.92 500.9,256.01 501.3,254.37 501.7,255.17 502.1,253.57 502.5,252.46 502.9,252.52 503.3,253.41 503.7,253.43 504.1,253.65 504.5,254.69 504.9,255.89 505.3,255.3 505.7,255.93 506.1,255.99 506.5,256.9 506.9,256.07 507.3,256.65 507.7,255.97 508.1,255.94 508.5,256.58 508.9,256.45 509.3,255.64 509.7,256.47 510.1,256.48 510.5,256.05 510.9,256.35 511.3,256.37 511.7,256.11 512.1,256.08 512.5,256.06 512.9,256.2 513.3,255.84 513.7,256.29 514.1,255.79 514.5,256.34 514.9,256.29 515.3,255.96 515.7,256.62 516.1,257 516.5,256.79 516.9,255.86 517.3,256.78 517.7,256.42 518.1,256.33 518.5,256.14 518.9,256.35 519.3,256.84 519.7,256.55 520.1,256.22 520.5,256.13 520.9,256.23 521.3,256.58 521.7,257.02 522.1,256.01 522.5,256.38 522.9,256.25 523.3,256.13 523.7,256.53 524.1,256.59 524.5,255.91 524.9,256.04 525.3,256.82 525.7,256.52 526.1,256.59 526.5,256.24 526.9,256.29 527.3,256.58 527.7,256.25 528.1,256.04 528.5,256.43 528.9,256.75 529.3,256.08 529.7,256.81 530.1,256.69 530.5,256.15 530.9,256.45 531.3,256.44 531.7,256.67 532.1,256.69 532.5,256.01 532.9,255.99 533.3,256.82 533.7,256.5 534.1,256.61 534.5,256.58 534.9,257 535.3,256.05 535.7,256.85 536.1,256.19 536.5,256.73 536.9,256.94 537.3,256 537.7,256.62 538.1,256.38 538.5,256.37 538.9,256.49 539.3,256.11 539.7,256.13 540.1,256.69 540.5,256.75 540.9,256.25 541.3,255.94 541.7,257.23 542.1,256.79 542.5,256.51 542.9,256 543.3,256.12 543.7,256.34 544.1,255.81 544.5,256.42 544.9,255.27 545.3,253.97 545.7,251.02 546.1,247.57 546.5,243.95 546.9,242.17 547.3,242.76 547.7,245.89 548.1,249.85 548.5,252.85 548.9,255.19 549.3,255.58 549.7,255.72 550.1,256.25 550.5,256.85 550.9,256.21 551.3,256.46 551.7,256.35 552.1,256.64 552.5,256.61 552.9,256.26 553.3,256.47 553.7,256.89 554.1,256.95 554.5,256.9 554.9,256.89 555.3,256.49 555.7,256.48 556.1,256.94 556.5,256.22 556.9,256.61 557.3,255.99 557.7,256.51 558.1,256.4 558.5,256.23 558.9,256.85 559.3,256.4 559.7,256.53 560.1,256.57 560.5,256.41 560.9,257.16 561.3,256.5 561.7,256.74 562.1,256.23 562.5,256.51 562.9,256.57 563.3,256.57 563.7,256.48 564.1,256.73 564.5,257.22 564.9,256.64 565.3,256.63 565.7,256.54 566.1,257.55 566.5,257.23 566.9,256.86 567.3,256.9 567.7,256.4 568.1,256.57 568.5,256.66 568.9,256.55 569.3,256.05 569.7,255.75 570.1,255.63 570.5,254.75 570.9,252.93 571.3,252.77 571.7,252.68 572.1,252.19 572.5,253.25 572.9,253.66 573.3,255.36 573.7,255.38 574.1,255.76 574.5,256.32 574.9,257.35 575.3,256.38 575.7,256.18 576.1,256.78 576.5,256.7 576.9,257.18 577.3,256.17 577.7,256.04 578.1,256.46 578.5,256.67 578.9,256.63 579.3,256.83 579.7,255.89 580.1,256.04 580.5,256.16 580.9,256.31 581.3,255.83 581.7,254.72 582.1,252.8 582.5,250.11 582.9,244.62 583.3,237.72 583.7,228.81 584.1,224 584.5,223.03 584.9,228.69 585.3,236.58 585.7,244.16 586.1,249.54 586.5,253 586.9,254.9 587.3,255.57 587.7,256.32 588.1,256.26 588.5,256.41 588.9,257 589.3,256.67 589.7,256.67 590.1,256.66 590.5,256.72 590.9,256.93 591.3,256.48 591.7,257.18 592.1,257.34 592.5,257.22 592.9,256.67 593.3,256.31 593.7,256.71 594.1,256.93 594.5,257.17 594.9,256.83 595.3,256.8 595.7,257.43 596.1,256.69 596.5,257.29 596.9,257.24 597.3,256.48 597.7,257.04 598.1,256.76 598.5,256.62 598.9,256.32 599.3,256.42 599.7,257.1 600.1,256.82 600.5,257.04 600.9,256.58 601.3,256.82 601.7,256.8 602.1,256.29 602.5,256.09 602.9,256.52 603.3,255.95 603.7,254.96 604.1,254.57 604.5,254.32 604.9,254.6 605.3,254.02 605.7,255.16 606.1,256.36 606.5,256.22 606.9,257.08 607.3,255.92 607.7,257.42 608.1,256.98 608.5,256.37 608.9,257.3 609.3,257.41 609.7,257.47 610.1,257.48 610.5,257.07 610.9,256.83 611.3,256.93 611.7,257.08 612.1,257.24 612.5,256.94 612.9,257.13 613.3,257.42 613.7,257.23 614.1,257.91 614.5,257.87 614.9,256.74 615.3,256.94 615.7,256.69 616.1,256.74 616.5,257.33 616.9,256.81 617.3,256.79 617.7,257.06 618.1,257.43 618.5,257.04 618.9,257.04 619.3,257.48 619.7,257.33 620.1,257.33 620.5,257.5 620.9,256.83 621.3,257.25 621.7,256.96 622.1,257.53 622.5,257.46 622.9,256.82 623.3,257.64 623.7,256.78 624.1,257.58 624.5,257.24 624.9,256.87 625.3,256.78 625.7,257.06 626.1,257.14 626.5,256.9 626.9,257.32 627.3,256.63 627.7,257.08 628.1,257.05 628.5,256.36 628.9,257.03 629.3,256.31 629.7,255.47 630.1,255.18 630.5,253.46 630.9,250.88 631.3,246.74 631.7,244.34 632.1,243.57 632.5,245.57 632.9,249.23 633.3,252.33 633.7,254.44 634.1,256.21 634.5,256.96 634.9,256.98 635.3,256.94 635.7,256.55 636.1,257.37 636.5,257.29 636.9,256.75 637.3,257.26 637.7,257.49 638.1,257.22 638.5,257.54 638.9,257.54 639.3,256.78 639.7,257.2 640.1,257.48 640.5,257.63 640.9,257.81 641.3,256.67 641.7,257.31 642.1,257.59 642.5,257.77 642.9,257.93 643.3,257.03 643.7,257.23 644.1,257 644.5,257.64 644.9,256.91 645.3,257.77 645.7,257.69 646.1,257.53 646.5,256.61 646.9,257.12 647.3,257.61 647.7,256.84 648.1,257.2 648.5,257.17 648.9,257.36 649.3,256.92 649.7,256.57 650.1,255.89 650.5,255.58 650.9,255.14 651.3,255.24 651.7,255 652.1,255.74 652.5,255.24 652.9,256.71 653.3,256.64 653.7,257.38 654.1,257.22 654.5,257.6 654.9,257.89 655.3,257.22 655.7,257.46 656.1,257.39 656.5,257.53 656.9,256.91 657.3,257.42 657.7,257.4 658.1,257.22 658.5,257.43 658.9,256.97 659.3,257.99 659.7,257.67 660.1,258.17 660.5,257.22 660.9,257.12 661.3,257.63 661.7,256.96 662.1,257.62 662.5,257.3 662.9,257.43 663.3,257.64 663.7,257.57 664.1,258.2 664.5,257.78 664.9,257.12 665.3,257.91 665.7,257.11 666.1,257.61" fill="none" stroke="#33649e" stroke-width="2.0" stroke-linejoin="round" stroke-linecap="butt" />
<polyline points="424.1,263.82 424.5,263.97 424.9,264.71 425.3,264.07 425.7,264.04 426.1,264.07 426.5,264.16 426.9,264.77 427.3,263.86 427.7,263.84 428.1,264.47 428.5,263.72 428.9,264.14 429.3,264.65 429.7,264.26 430.1,264.09 430.5,264 430.9,263.92 431.3,264.03 431.7,264.26 432.1,264.63 432.5,264.51 432.9,263.95 433.3,263.86 433.7,264.3 434.1,263.35 434.5,263.7 434.9,263.46 435.3,262.49 435.7,260.87 436.1,258.06 436.5,252.32 436.9,246.95 437.3,243.59 437.7,245.03 438.1,249.33 438.5,255.45 438.9,258.48 439.3,259.68 439.7,259.12 440.1,258.03 440.5,257.75 440.9,259.58 441.3,260.95 441.7,262.35 442.1,263.71 442.5,263.63 442.9,264.32 443.3,264.22 443.7,263.96 444.1,264.57 444.5,263.82 444.9,264.58 445.3,264.07 445.7,264.54 446.1,264.89 446.5,264.62 446.9,264.23 447.3,264.44 447.7,264.33 448.1,264.06 448.5,264.09 448.9,264.5 449.3,264.67 449.7,263.89 450.1,264.48 450.5,264.68 450.9,264.55 451.3,264.17 451.7,264.88 452.1,264.11 452.5,264.76 452.9,265.09 453.3,263.84 453.7,264.64 454.1,264.66 454.5,264.64 454.9,264.3 455.3,264.46 455.7,264.09 456.1,264.62 456.5,264.77 456.9,264.36 457.3,264.27 457.7,264.43 458.1,264.6 458.5,264.62 458.9,264.57 459.3,264.63 459.7,264.16 460.1,263.68 460.5,264.83 460.9,265.11 461.3,264.14 461.7,264.4 462.1,264.74 462.5,264.97 462.9,264.87 463.3,265.08 463.7,264.63 464.1,264.79 464.5,264.8 464.9,264.51 465.3,265.07 465.7,264.87 466.1,265 466.5,264.53 466.9,265.02 467.3,264.31 467.7,264.8 468.1,263.77 468.5,264.32 468.9,264.92 469.3,264.51 469.7,264.73 470.1,264.11 470.5,265.19 470.9,264.86 471.3,264.64 471.7,264.79 472.1,264.75 472.5,265.12 472.9,264.69 473.3,264.1 473.7,264.5 474.1,265 474.5,264.73 474.9,264.36 475.3,264.66 475.7,264.43 476.1,264.53 476.5,263.67 476.9,263.75 477.3,264 477.7,263.03 478.1,261.57 478.5,258.32 478.9,250.46 479.3,240.47 479.7,230.01 480.1,225.42 480.5,230.18 480.9,239.9 481.3,249.86 481.7,258.14 482.1,261.43 482.5,263.52 482.9,263.83 483.3,264.13 483.7,264.46 484.1,264.58 484.5,263.99 484.9,264.87 485.3,264.15 485.7,264.54 486.1,265.28 486.5,264.2 486.9,264.14 487.3,262.24 487.7,260.69 488.1,258.4 488.5,257.24 488.9,257.29 489.3,259.14 489.7,261.69 490.1,262.64 490.5,263.8 490.9,264.73 491.3,264.47 491.7,264.46 492.1,264.42 492.5,264.89 492.9,264.74 493.3,264.93 493.7,264.83 494.1,265.54 494.5,264.78 494.9,264.27 495.3,264.99 495.7,264.96 496.1,265.02 496.5,264.43 496.9,265.37 497.3,264.98 497.7,264.98 498.1,264.46 498.5,265.17 498.9,264.99 499.3,265.48 499.7,264.88 500.1,264.61 500.5,265.08 500.9,264.73 501.3,265.19 501.7,264.68 502.1,265.01 502.5,264.98 502.9,265.05 503.3,264.89 503.7,264.79 504.1,265.05 504.5,264.87 504.9,265.12 505.3,264.97 505.7,264.3 506.1,265.04 506.5,265.52 506.9,265.13 507.3,265.18 507.7,265.06 508.1,264.61 508.5,264.11 508.9,264.54 509.3,264.24 509.7,263.62 510.1,263.13 510.5,262.76 510.9,262.44 511.3,262.61 511.7,262.81 512.1,263.34 512.5,263.37 512.9,263.91 513.3,264.67 513.7,264.62 514.1,264.1 514.5,265.07 514.9,264.32 515.3,265.78 515.7,265.4 516.1,265.4 516.5,264.96 516.9,264.82 517.3,265.14 517.7,265.22 518.1,264.96 518.5,265.28 518.9,265.47 519.3,265.44 519.7,264.9 520.1,264.53 520.5,265.26 520.9,265.04 521.3,265.42 521.7,265.83 522.1,265.83 522.5,265.38 522.9,265.66 523.3,265.84 523.7,265.31 524.1,265.39 524.5,265.59 524.9,265.29 525.3,265.14 525.7,265.06 526.1,265.32 526.5,265.11 526.9,265.59 527.3,265.21 527.7,265.81 528.1,265.73 528.5,264.91 528.9,265.69 529.3,265.19 529.7,265.78 530.1,265.49 530.5,265.3 530.9,265.53 531.3,265.11 531.7,265.4 532.1,265.41 532.5,265.21 532.9,265.36 533.3,264.87 533.7,265.35 534.1,264.69 534.5,265.2 534.9,264.94 535.3,264.49 535.7,262.76 536.1,261.23 536.5,255.65 536.9,250.28 537.3,245.83 537.7,246.56 538.1,250.08 538.5,256.08 538.9,259.94 539.3,263.09 539.7,264.18 540.1,265.15 540.5,264.97 540.9,264.89 541.3,265.4 541.7,264.9 542.1,265.02 542.5,265.63 542.9,264.78 543.3,265.67 543.7,265.31 544.1,265.15 544.5,265.55 544.9,265.69 545.3,265.3 545.7,265.45 546.1,265.78 546.5,265.77 546.9,265.52 547.3,265.28 547.7,265.23 548.1,265.36 548.5,265.79 548.9,265.76 549.3,265.67 549.7,266.04 550.1,265.49 550.5,265.46 550.9,265.47 551.3,266.23 551.7,264.92 552.1,265.71 552.5,265.76 552.9,265.64 553.3,266.4 553.7,266.01 554.1,265.89 554.5,265.34 554.9,265.8 555.3,265.52 555.7,265.66 556.1,265.71 556.5,265.49 556.9,265.86 557.3,266.19 557.7,266 558.1,265.73 558.5,265.02 558.9,266.02 559.3,266.02 559.7,265.6 560.1,265.51 560.5,265.88 560.9,265.4 561.3,265.92 561.7,265.3 562.1,265.35 562.5,265.66 562.9,265.16 563.3,265.64 563.7,265.8 564.1,265.18 564.5,265.9 564.9,265.39 565.3,265.73 565.7,265.58 566.1,265.32 566.5,265.24 566.9,264.75 567.3,264.91 567.7,264.47 568.1,264.23 568.5,261.79 568.9,257.07 569.3,252.56 569.7,247.74 570.1,246.36 570.5,249.81 570.9,255.12 571.3,259.32 571.7,262.4 572.1,264 572.5,264.15 572.9,264.6 573.3,264.25 573.7,263.23 574.1,260.98 574.5,256.47 574.9,248.04 575.3,236.39 575.7,225.87 576.1,223.86 576.5,230.76 576.9,242.48 577.3,253.05 577.7,259.12 578.1,262.79 578.5,264.09 578.9,264.58 579.3,265.8 579.7,265.61 580.1,264.84 580.5,265.65 580.9,265.4 581.3,266.01 581.7,265.71 582.1,265.67 582.5,265.8 582.9,265.91 583.3,265.82 583.7,265.76 584.1,265.81 584.5,266.04 584.9,265.52 585.3,265.9 585.7,265.87 586.1,265.77 586.5,266.18 586.9,265.52 587.3,265.84 587.7,265.69 588.1,266.15 588.5,265.83 588.9,266.01 589.3,266.12 589.7,265.48 590.1,266.16 590.5,265.77 590.9,265.94 591.3,265.99 591.7,266.3 592.1,266.28 592.5,266.62 592.9,266.11 593.3,265.9 593.7,265.9 594.1,266.28 594.5,266.59 594.9,266.18 595.3,265.89 595.7,266.17 596.1,266.16 596.5,266.09 596.9,265.84 597.3,265.26 597.7,265.91 598.1,266.43 598.5,266.15 598.9,265.35 599.3,266.07 599.7,265.44 600.1,266.66 600.5,265.99 600.9,265.39 601.3,265.79 601.7,264.9 602.1,264.83 602.5,264.05 602.9,263.08 603.3,263.27 603.7,262.53 604.1,263.67 604.5,263.78 604.9,264.03 605.3,264.35 605.7,265.92 606.1,266.18 606.5,265.5 606.9,266.56 607.3,266.14 607.7,266.04 608.1,266.1 608.5,266.06 608.9,266.62 609.3,266.2 609.7,265.55 610.1,266.84 610.5,266.44 610.9,265.79 611.3,266.02 611.7,265.82 612.1,266.12 612.5,266.2 612.9,266.12 613.3,265.8 613.7,265.67 614.1,266.11 614.5,265.62 614.9,265.97 615.3,263.92 615.7,262.03 616.1,257.27 616.5,250.53 616.9,244.73 617.3,241.42 617.7,244 618.1,250.69 618.5,257.62 618.9,261.41 619.3,264.68 619.7,265.52 620.1,265.63 620.5,266.36 620.9,266.59 621.3,266.29 621.7,266.21 622.1,266.8 622.5,266.72 622.9,265.96 623.3,266.22 623.7,266.24 624.1,266.19 624.5,265.85 624.9,266.65 625.3,266.4 625.7,266.41 626.1,266.85 626.5,266.22 626.9,266.39 627.3,266.51 627.7,266.29 628.1,266.4 628.5,266.7 628.9,266.45 629.3,266.9 629.7,266.22 630.1,266.54 630.5,266.01 630.9,266.45 631.3,266.26 631.7,266.94 632.1,266.75 632.5,266.67 632.9,267.12 633.3,266.99 633.7,266.76 634.1,266.3 634.5,266.06 634.9,266.53 635.3,266.43 635.7,266.33 636.1,266.46 636.5,266.01 636.9,267.05 637.3,266.19 637.7,266.35 638.1,266.76 638.5,266.04 638.9,266.89 639.3,266.9 639.7,266.49 640.1,266.24 640.5,266.44 640.9,265.99 641.3,267.07 641.7,266.63 642.1,266.37 642.5,266.32 642.9,266.81 643.3,267.12 643.7,266.21 644.1,266.44 644.5,266.05 644.9,266.86 645.3,266.69 645.7,267.38 646.1,266.59 646.5,266.49 646.9,266.39 647.3,266.9 647.7,266.05 648.1,266.79 648.5,266.54 648.9,266.12 649.3,265.73 649.7,266 650.1,265.79 650.5,264.51 650.9,264.4 651.3,264.58 651.7,263.88 652.1,264.35 652.5,264.53 652.9,265.4 653.3,265.87 653.7,266.09 654.1,266.2 654.5,266.05 654.9,266.2 655.3,266.37 655.7,266.93 656.1,266.56 656.5,266.46 656.9,266.97 657.3,266.95 657.7,266.52 658.1,266.57 658.5,267.01 658.9,266.92 659.3,266.52 659.7,266.89 660.1,266.8 660.5,267.19 660.9,266.54 661.3,267.13 661.7,266.98 662.1,266.51 662.5,267.2 662.9,267.16 663.3,266.42 663.7,267.52 664.1,266.48 664.5,266.56 664.9,266.77 665.3,267.14 665.7,267.08 666.1,266.86" fill="none" stroke="#e90000" stroke-width="2.0" stroke-linejoin="round" stroke-linecap="butt" />
<text x="426.8" y="281.2" font-size="10.9" text-anchor="start" fill="#222" >NVP-PDF#00-053-0018</text>
<text x="427" y="330.5" font-size="10.7" text-anchor="start" fill="#222" >Na<tspan dy="2.5" font-size="7.5">2</tspan><tspan dy="-2.5">C</tspan><tspan dy="2.5" font-size="7.5">2</tspan><tspan dy="-2.5">O</tspan><tspan dy="2.5" font-size="7.5">4</tspan><tspan dy="-2.5">-PDF#49-1816</tspan></text>
<line x1="457.7" y1="287.5" x2="457.7" y2="302.9" stroke="#555" stroke-width="2.2" />
<line x1="504.3" y1="295.5" x2="504.3" y2="302.9" stroke="#555" stroke-width="2.2" />
<line x1="506.2" y1="298.5" x2="506.2" y2="302.9" stroke="#555" stroke-width="2.2" />
<line x1="534.6" y1="294.7" x2="534.6" y2="302.9" stroke="#555" stroke-width="2.2" />
<line x1="574.7" y1="283.5" x2="574.7" y2="302.9" stroke="#555" stroke-width="2.2" />
<line x1="597.2" y1="298.8" x2="597.2" y2="302.9" stroke="#555" stroke-width="2.2" />
<line x1="601.3" y1="289" x2="601.3" y2="302.9" stroke="#555" stroke-width="2.2" />
<line x1="631.4" y1="297.2" x2="631.4" y2="302.9" stroke="#555" stroke-width="2.2" />
<line x1="481.4" y1="335.8" x2="481.4" y2="338" stroke="#ff8a12" stroke-width="2.6" />
<line x1="500" y1="335.8" x2="500" y2="338" stroke="#ff8a12" stroke-width="2.6" />
<line x1="551.6" y1="335.8" x2="551.6" y2="338" stroke="#ff8a12" stroke-width="2.6" />
<line x1="560" y1="329.5" x2="560" y2="338" stroke="#ff8a12" stroke-width="2.6" />
<line x1="569.6" y1="322.3" x2="569.6" y2="338" stroke="#ff8a12" stroke-width="2.6" />
<line x1="577.8" y1="335.3" x2="577.8" y2="338" stroke="#ff8a12" stroke-width="2.6" />
<line x1="601.7" y1="329" x2="601.7" y2="338" stroke="#ff8a12" stroke-width="2.6" />
<line x1="621.7" y1="336" x2="621.7" y2="338" stroke="#ff8a12" stroke-width="2.6" />
<line x1="649.3" y1="332.5" x2="649.3" y2="338" stroke="#ff8a12" stroke-width="2.6" />
<line x1="661" y1="336" x2="661" y2="338" stroke="#ff8a12" stroke-width="2.6" />
<rect x="423.5" y="37.4" width="243.1" height="300.8" fill="none" stroke="#000" stroke-width="1.4"/>
<line x1="435" y1="338.2" x2="435" y2="333.2" stroke="#1a1a1a" stroke-width="1.1" />
<line x1="458.2" y1="338.2" x2="458.2" y2="335.4" stroke="#1a1a1a" stroke-width="1.1" />
<line x1="481.4" y1="338.2" x2="481.4" y2="333.2" stroke="#1a1a1a" stroke-width="1.1" />
<line x1="504.6" y1="338.2" x2="504.6" y2="335.4" stroke="#1a1a1a" stroke-width="1.1" />
<line x1="527.8" y1="338.2" x2="527.8" y2="333.2" stroke="#1a1a1a" stroke-width="1.1" />
<line x1="551" y1="338.2" x2="551" y2="335.4" stroke="#1a1a1a" stroke-width="1.1" />
<line x1="574.2" y1="338.2" x2="574.2" y2="333.2" stroke="#1a1a1a" stroke-width="1.1" />
<line x1="597.4" y1="338.2" x2="597.4" y2="335.4" stroke="#1a1a1a" stroke-width="1.1" />
<line x1="620.6" y1="338.2" x2="620.6" y2="333.2" stroke="#1a1a1a" stroke-width="1.1" />
<line x1="643.8" y1="338.2" x2="643.8" y2="335.4" stroke="#1a1a1a" stroke-width="1.1" />
<text x="435" y="361.6" font-size="24" text-anchor="middle" fill="#000" >20</text>
<text x="481.4" y="361.6" font-size="24" text-anchor="middle" fill="#000" >24</text>
<text x="527.8" y="361.6" font-size="24" text-anchor="middle" fill="#000" >28</text>
<text x="574.2" y="361.6" font-size="24" text-anchor="middle" fill="#000" >32</text>
<text x="620.6" y="361.6" font-size="24" text-anchor="middle" fill="#000" >36</text>
<text x="667" y="361.6" font-size="24" text-anchor="middle" fill="#000" >40</text>
<text x="485.9" y="397.5" font-size="24" text-anchor="start" fill="#000" >2</text>
<ellipse cx="505.4" cy="389.8" rx="4.7" ry="8.4" fill="#000"/>
<ellipse cx="505.4" cy="389.8" rx="3.1" ry="7.6" fill="#fff"/>
<rect x="502.2" y="389.3" width="6.4" height="0.9" fill="#555"/>
<text x="604.6" y="397.5" font-size="24" text-anchor="end" fill="#000" >/ degree</text>
<text transform="translate(409.6,186.5) rotate(-90)" x="0" y="0" font-size="24" text-anchor="middle" fill="#000">Intensity / arb. units</text>
<line x1="504.2" y1="44" x2="525.3" y2="44" stroke="#9a9a9a" stroke-width="2.4" />
<text x="527.3" y="47.6" font-size="8.9" text-anchor="start" fill="#111" >Slurry-coating-4.5V</text>
<line x1="504.2" y1="55" x2="525.3" y2="55" stroke="#5e5d9e" stroke-width="2.4" />
<text x="527.3" y="58.6" font-size="8.9" text-anchor="start" fill="#111" >Slurry-coating-3.8V</text>
<line x1="504.2" y1="65.8" x2="525.3" y2="65.8" stroke="#3cc46f" stroke-width="2.4" />
<text x="527.3" y="69.4" font-size="8.9" text-anchor="start" fill="#111" >Slurry-coating-As prepared</text>
<line x1="504.2" y1="77.5" x2="525.3" y2="77.5" stroke="#fcbc14" stroke-width="2.4" />
<text x="527.3" y="81.1" font-size="8.9" text-anchor="start" fill="#111" >Dry-processing-4.5 V</text>
<line x1="504.2" y1="88.3" x2="525.3" y2="88.3" stroke="#33649e" stroke-width="2.4" />
<text x="527.3" y="91.9" font-size="8.9" text-anchor="start" fill="#111" >Dry-processing-3.8 V</text>
<line x1="504.2" y1="99.2" x2="525.3" y2="99.2" stroke="#e90000" stroke-width="2.4" />
<text x="527.3" y="102.8" font-size="8.9" text-anchor="start" fill="#111" >Dry-processing-As prepared</text>
<text x="66.3" y="416.4" font-size="35" text-anchor="start" fill="#000" >c</text>
<polyline points="124.5,557.76 127.3,557.21 131.31,557.22 135.8,557.33 140,556.06 143.83,554.77 147.66,555.09 151.4,554.45 155,554.33 158.51,553.77 161.94,552.73 165.15,552.03 168,551.41 170.4,550.31 172.44,548.2 174.26,547.94 176,546.01 177.66,544.15 179.19,542.19 180.62,539.64 182,537.98 183.34,536.43 184.62,534.53 185.84,532.58 187,530.91 188.09,529.68 189.12,529.65 190.09,528.85 191,528.16 191.8,527.36 192.5,527.78 193.2,527.57 194,528.92 194.91,529.02 195.88,529.32 196.91,530.19 198,531.88 199.18,532.15 200.44,532.07 201.73,533.26 203,533.58 204.23,533.99 205.44,535.15 206.68,536.38 208,536.53 209.38,536.44 210.81,536.68 212.34,537.24 214,537.85 215.88,537.24 217.94,537.27 220.02,538.77 222,538.6 223.82,539.65 225.56,539.93 227.27,541.18 229,541.29 230.82,542.58 232.69,543.94 234.46,544.68 236,544.84 237.21,545.76 238.19,545.52 239.07,545.3 240,545.68 240.98,545.32 241.94,544.14 242.93,542.12 244,541.3 245.16,539.35 246.38,536.75 247.66,533.64 249,532.35 250.43,529.58 251.94,526.48 253.48,522.85 255,520.48 256.5,519.43 258,517.78 259.5,516.34 261,514.91 262.48,514.25 263.94,513.31 265.43,512.78 267,511.7 268.7,510.94 270.5,509.42 272.3,508.32 274,506.25 275.59,503.4 277.12,501.7 278.59,497.52 280,494.16 281.37,489.26 282.69,483.26 283.91,475.82 285,471.35 285.91,466.49 286.69,461.91 287.37,456.53 288,453.76 288.57,451.6 289.06,449.88 289.52,449.49 290,448.16 290.48,448.41 290.94,448.11 291.43,447.98 292,449.65 292.66,452.29 293.38,455.76 294.16,460.23 295,464.94 295.91,471.62 296.88,478.14 297.91,485.66 299,494.88 300.16,504.05 301.38,513.34 302.66,522.46 304,531.15 305.38,538.63 306.81,544.06 308.34,549.06 310,553.2 311.77,557.02 313.62,557.95 315.67,559.21 318,560.43 320.65,561.42 323.56,561.51 326.7,562.79 330,563.3 333.4,563.6 336.94,564.07 340.76,563.75 345,564.17 350.32,564.32 356.44,565.09 362.09,564.88 366,565.44" fill="none" stroke="#3cc46f" stroke-width="2.7" stroke-linejoin="round" stroke-linecap="butt" />
<polyline points="124.5,557.62 127.3,557.69 131.31,557.22 135.8,556.87 140,556.55 143.86,556.08 147.72,555.74 151.47,554.72 155,555.39 158.3,554.3 161.44,553.91 164.35,553.07 167,552.85 169.33,551.12 171.38,550.4 173.23,549.17 175,547.58 176.66,545.17 178.19,542.34 179.62,539.01 181,537.45 182.34,535.24 183.62,533.06 184.84,531.23 186,529.53 187.09,528.34 188.12,528.3 189.09,528 190,526.94 190.8,527.45 191.5,527.19 192.2,527.54 193,527.6 193.91,528.3 194.88,528.81 195.91,529.46 197,529.52 198.16,531.38 199.38,532.4 200.66,533.34 202,535.25 203.41,535.75 204.88,537.75 206.41,539.16 208,539.33 209.68,540.54 211.44,540.93 213.23,541.41 215,541.04 216.73,541.89 218.44,541.74 220.18,541.95 222,541.81 223.98,542.46 226.06,542.53 228.12,543.07 230,543.68 231.66,543.74 233.19,544.57 234.62,544.69 236,544.79 237.32,543.98 238.56,543.67 239.77,542.76 241,540.98 242.25,539.64 243.5,537.56 244.75,534.87 246,533.13 247.25,531.05 248.5,527.81 249.75,524.77 251,523.08 252.23,520.64 253.44,519.51 254.68,517.03 256,515.51 257.43,514.09 258.94,513.47 260.48,512.46 262,511.7 263.5,511.55 265,511.05 266.5,511.51 268,510.11 269.52,509.73 271.06,508.62 272.57,507.19 274,506.58 275.34,503.09 276.62,501.67 277.84,497.71 279,495.04 280.09,492.3 281.12,486.97 282.09,483.31 283,480.46 283.84,476.31 284.62,472.26 285.34,468.92 286,465.68 286.57,463.89 287.06,462.76 287.52,460.89 288,460.06 288.5,459.59 289,459.3 289.5,458.13 290,458.42 290.48,458.2 290.94,458.4 291.43,459.23 292,460.8 292.66,463.05 293.38,466.37 294.16,470.95 295,476.06 295.91,482.01 296.88,487.77 297.91,494.78 299,502.24 300.16,510.11 301.38,518.32 302.66,526.66 304,534.65 305.38,540.17 306.81,545.72 308.34,550.12 310,554.66 311.77,557.02 313.62,559.29 315.67,559.48 318,560.79 320.65,561.73 323.56,562.61 326.7,562.09 330,563.55 333.4,563.47 336.94,563.82 340.76,564.09 345,564.38 350.32,564.7 356.44,564.31 362.09,565.52 366,565.53" fill="none" stroke="#5e5d9e" stroke-width="2.7" stroke-linejoin="round" stroke-linecap="butt" />
<polyline points="124.5,556.49 127.3,556.52 131.31,556.93 135.8,555.84 140,555.18 143.86,555.59 147.72,554.45 151.47,554.36 155,553.82 158.3,553.47 161.44,553.31 164.35,552.61 167,551.26 169.33,550.32 171.38,549.04 173.23,547.27 175,545.5 176.68,542.84 178.22,539.98 179.65,537.41 181,534.66 182.25,533.33 183.41,531.62 184.48,530.16 185.5,529.3 186.46,528.67 187.34,528.38 188.18,528.29 189,528.14 189.76,527.97 190.47,528.96 191.19,529.17 192,529.55 192.91,530.79 193.88,531.8 194.91,532.98 196,534.54 197.18,537.02 198.44,538.22 199.73,539.95 201,540.88 202.16,542.26 203.25,543.63 204.47,543.64 206,544.38 207.95,544.81 210.19,544.8 212.59,545.24 215,544.89 217.41,545.08 219.88,544.76 222.41,545.9 225,545.11 227.82,545.1 230.81,545.6 233.65,544.92 236,544.81 237.67,544.06 238.88,543.69 239.89,542.64 241,541.69 242.27,539.74 243.56,537.48 244.82,535.26 246,532.97 247.05,530.41 248,528.33 248.95,525.67 250,523.06 251.2,520.26 252.5,518.53 253.8,515.82 255,514.57 256.07,513.22 257.06,512.04 258.02,511.25 259,510.77 260,511.44 261,510.66 262,510.77 263,511.13 263.98,510.82 264.94,510.89 265.93,509.86 267,509.44 268.16,510.3 269.38,508.4 270.66,507.29 272,506.06 273.45,504.69 275,502.06 276.55,500.18 278,497 279.34,493.21 280.62,488.26 281.84,482.88 283,477.72 284.11,471.95 285.16,467.58 286.13,461.61 287,457.87 287.74,455.75 288.38,453.14 288.95,452.24 289.5,451.14 290,450.82 290.44,450.35 290.91,450.68 291.5,452.96 292.26,455.36 293.12,459.01 294.05,464.26 295,470.19 295.94,476.18 296.91,484.31 297.92,492.26 299,500.72 300.16,508.09 301.38,517.23 302.66,524.9 304,532.87 305.38,539.69 306.81,545.83 308.34,550.87 310,554.98 311.77,557.51 313.62,559.08 315.67,560.23 318,561.2 320.65,562.12 323.56,562.89 326.7,563.45 330,562.9 333.4,563.75 336.94,564.21 340.76,564.33 345,565.16 350.32,565.31 356.44,565.25 362.09,565.52 366,566.03" fill="none" stroke="#9a9a9a" stroke-width="2.7" stroke-linejoin="round" stroke-linecap="butt" />
<polyline points="124.5,708.89 126.4,708.32 129.12,707.91 132.16,706.76 135,705.99 137.58,704.55 140.16,703.54 142.65,701.7 145,699.69 147.19,697.49 149.25,693.59 151.19,691.37 153,688.33 154.69,684.68 156.25,681.03 157.69,678.12 159,674.99 160.14,673.25 161.12,672.03 162.05,670.39 163,669.82 163.98,669.54 164.94,669.81 165.93,670.69 167,672.03 168.16,674.5 169.38,676.37 170.66,679.9 172,683.23 173.43,685.83 174.94,689.38 176.48,692.28 178,695.16 179.5,697.1 181,698.62 182.5,699.19 184,699.27 185.48,699.63 186.94,699.32 188.43,698.88 190,696.79 191.7,696.49 193.5,694.34 195.3,693.67 197,692.16 198.59,690.82 200.12,689.59 201.59,688.17 203,686.79 204.32,686.33 205.56,686 206.77,685.15 208,685.02 209.23,684.69 210.44,685.8 211.68,685.74 213,686.26 214.41,687.04 215.88,687.69 217.41,688.83 219,690.44 220.68,691.66 222.44,693.49 224.23,695.12 226,695.71 227.7,697.34 229.38,698.73 231.11,699.81 233,699.04 235.09,699.12 237.31,699.51 239.63,698.71 242,697.68 244.43,696.95 246.94,695.03 249.48,692.86 252,692 254.55,690.52 257.12,689.13 259.64,687.72 262,686.07 264.19,684.77 266.25,683.63 268.19,682.26 270,681.36 271.69,680.33 273.25,678.57 274.69,677.1 276,673.96 277.16,670.51 278.19,668.07 279.12,664.43 280,659.62 280.82,654.89 281.56,650.43 282.27,645.39 283,639.63 283.77,634.53 284.56,628.78 285.32,623.52 286,619.57 286.57,617.63 287.06,616.1 287.52,615.41 288,614.64 288.48,616.1 288.94,615.6 289.43,617.18 290,619.63 290.66,624.71 291.38,630.1 292.16,637.6 293,644.94 293.91,653.64 294.88,662.26 295.91,671.65 297,679.93 298.11,687.6 299.25,692.58 300.52,698.55 302,702.79 303.74,706.69 305.69,709.47 307.79,711.35 310,713.09 312.12,714.38 314.25,714.84 316.75,715.45 320,715.45 324.16,716.38 329,716.62 334.34,717.11 340,717.75 346.69,717.94 354.25,718.25 361.19,718.7 366,717.71" fill="none" stroke="#e90000" stroke-width="2.7" stroke-linejoin="round" stroke-linecap="butt" />
<polyline points="124.5,710.15 126.4,709.69 129.12,709.25 132.16,708.29 135,708.19 137.61,707.51 140.22,706.44 142.72,704.87 145,703.72 146.98,702.23 148.75,700.77 150.39,698.6 152,696.05 153.61,693.45 155.16,690.56 156.63,687.66 158,684.84 159.25,683 160.41,680.44 161.48,678.62 162.5,677.62 163.45,676.37 164.31,675.93 165.15,675.09 166,676.07 166.85,676.01 167.69,676.41 168.55,677.4 169.5,678.57 170.52,680.18 171.59,683.53 172.75,685.35 174,688.33 175.39,691 176.91,692.61 178.46,695.11 180,696.73 181.48,698.95 182.94,699.83 184.43,700.57 186,701.94 187.66,701.85 189.38,700.83 191.16,700.79 193,699.57 194.93,699.27 196.94,697.51 198.98,695.24 201,693.91 203.05,692.36 205.12,691.36 207.14,690.08 209,689.25 210.66,688.13 212.19,686.85 213.62,686.51 215,686.97 216.32,686.92 217.56,686.79 218.77,687.31 220,687.94 221.23,688.81 222.44,689.22 223.68,691.17 225,691.78 226.45,693.29 228,693.75 229.55,695.98 231,697.45 232.3,697.14 233.5,699.13 234.7,699.34 236,699.26 237.34,699.07 238.69,699.89 240.2,699.24 242,698.7 244.22,697.36 246.75,695.8 249.41,694.81 252,692.68 254.55,691.79 257.12,689.35 259.64,688.06 262,686.51 264.19,686.37 266.25,684.48 268.19,683.78 270,683.22 271.69,681.7 273.25,680.86 274.69,678.93 276,676.21 277.16,673.36 278.19,669.2 279.12,665.79 280,661.89 280.82,657.36 281.56,651.91 282.27,646.83 283,641.72 283.77,637.03 284.56,631.29 285.32,625.93 286,621.91 286.57,619.31 287.06,617.1 287.52,616.12 288,615.12 288.48,615.77 288.94,616.22 289.43,617.34 290,620.16 290.66,624.68 291.38,631.26 292.16,637.63 293,644.56 293.91,652.95 294.88,662.8 295.91,672.15 297,680.26 298.11,687.38 299.25,693.62 300.52,698.74 302,703.76 303.74,707.04 305.69,710.18 307.79,711.86 310,714.03 312.12,715.22 314.25,715.38 316.75,716.76 320,717.25 324.16,717.02 329,717.92 334.34,718.43 340,718.4 346.69,719.09 354.25,719.16 361.19,719.69 366,719.56" fill="none" stroke="#33649e" stroke-width="2.7" stroke-linejoin="round" stroke-linecap="butt" />
<polyline points="124.5,706.54 126.4,706.16 129.12,705.37 132.16,704.16 135,702.85 137.58,701.65 140.16,700.65 142.65,699.3 145,698.07 147.19,696.31 149.25,694.28 151.19,692.21 153,690.05 154.68,688.05 156.22,685.21 157.65,682 159,680.14 160.27,678.18 161.44,676.89 162.52,675.75 163.5,674.78 164.34,673.96 165.06,673.28 165.75,674.11 166.5,674.59 167.3,674.17 168.12,675.09 169.01,675.57 170,677.09 171.12,678.72 172.34,681.47 173.64,684.29 175,686.19 176.43,689.71 177.94,692.32 179.48,694.08 181,697.21 182.45,698.46 183.88,699.59 185.36,700.43 187,700.85 188.81,701.2 190.75,701.8 192.81,702.09 195,703.24 197.36,703.38 199.88,702.81 202.45,702.99 205,703.3 207.5,703.34 210,702.78 212.5,702.45 215,703.15 217.48,702.46 219.94,701.1 222.43,700.48 225,700.21 227.66,700.01 230.38,699.57 233.16,698.57 236,697.14 238.98,696.37 242.06,694.81 245.12,692.78 248,690.82 250.69,689.43 253.25,687.43 255.69,685.3 258,684.02 260.16,681.98 262.19,681.25 264.12,679.63 266,677.65 267.87,676.66 269.69,675.67 271.41,673.04 273,671.94 274.41,670.61 275.69,667.46 276.87,665.37 278,661.5 279.09,657.54 280.12,651.55 281.09,645.92 282,639.81 282.83,632.34 283.59,623.68 284.31,615.17 285,608.38 285.68,602.94 286.34,598.77 286.96,594.98 287.5,592.94 287.93,592.84 288.28,592.35 288.61,592.29 289,592.84 289.44,593.14 289.91,592.88 290.42,594.79 291,596.86 291.66,601.9 292.38,609.2 293.16,615.53 294,625.11 294.93,634.87 295.94,647.33 296.98,659.58 298,669.87 298.98,678.49 299.94,685.48 300.93,691.89 302,696.58 303.09,700.44 304.19,702.32 305.45,704.6 307,705.54 308.85,708.02 310.94,709.25 313.3,710.7 316,712.4 318.63,712.92 321.31,712.87 324.84,714.19 330,713.49 338.3,715.06 348.88,715.26 359.02,715.26 366,716.02" fill="none" stroke="#fcbc14" stroke-width="2.7" stroke-linejoin="round" stroke-linecap="butt" />
<text x="217.4" y="524.4" font-size="15" text-anchor="middle" fill="#000" >C=O</text>
<line x1="219.4" y1="528.3" x2="219.4" y2="568.5" stroke="#111" stroke-width="1.35" stroke-dasharray="5.5,2,1.2,2" />
<text x="220.4" y="661.2" font-size="15" text-anchor="middle" fill="#000" >C=O</text>
<line x1="219.3" y1="666.7" x2="219.3" y2="719.6" stroke="#111" stroke-width="1.35" stroke-dasharray="5.5,2,1.2,2" />
<line x1="131.2" y1="437.9" x2="155.3" y2="437.9" stroke="#3cc46f" stroke-width="2.8" />
<text x="158.1" y="441.6" font-size="10.2" text-anchor="start" fill="#222" >Slurry-coating-As prepared</text>
<line x1="131.2" y1="450.3" x2="155.3" y2="450.3" stroke="#5e5d9e" stroke-width="2.8" />
<text x="158.1" y="454" font-size="10.2" text-anchor="start" fill="#222" >Slurry-coating-3.8V</text>
<line x1="131.2" y1="462.7" x2="155.3" y2="462.7" stroke="#9a9a9a" stroke-width="2.8" />
<text x="158.1" y="466.4" font-size="10.2" text-anchor="start" fill="#222" >Slurry-coating-4.5V</text>
<line x1="131" y1="589" x2="154.7" y2="589" stroke="#e90000" stroke-width="2.8" />
<text x="157.6" y="592.7" font-size="10.2" text-anchor="start" fill="#222" >Dry-processing-As prepared</text>
<line x1="131" y1="602.3" x2="154.7" y2="602.3" stroke="#33649e" stroke-width="2.8" />
<text x="157.6" y="606" font-size="10.2" text-anchor="start" fill="#222" >Dry-processing-3.8V</text>
<line x1="131" y1="615.6" x2="154.7" y2="615.6" stroke="#fcbc14" stroke-width="2.8" />
<text x="157.6" y="619.3" font-size="10.2" text-anchor="start" fill="#222" >Dry-processing-4.5V</text>
<text x="331" y="444.8" font-size="15.3" text-anchor="start" fill="#000" >C 1<tspan font-family="Liberation Serif" font-style="italic" dx="0.6">s</tspan></text>
<text x="331" y="597.4" font-size="15.3" text-anchor="start" fill="#000" >C 1<tspan font-family="Liberation Serif" font-style="italic" dx="0.6">s</tspan></text>
<rect x="124.0" y="426.7" width="243" height="300.9" fill="none" stroke="#1a1a1a" stroke-width="1.2"/>
<line x1="124" y1="577.3" x2="367" y2="577.3" stroke="#1a1a1a" stroke-width="1.3" />
<line x1="164.3" y1="577.3" x2="164.3" y2="574.5" stroke="#1a1a1a" stroke-width="1" />
<line x1="164.3" y1="727.6" x2="164.3" y2="724.8" stroke="#1a1a1a" stroke-width="1" />
<line x1="204.8" y1="577.3" x2="204.8" y2="572.3" stroke="#1a1a1a" stroke-width="1" />
<line x1="204.8" y1="727.6" x2="204.8" y2="722.6" stroke="#1a1a1a" stroke-width="1" />
<line x1="245.3" y1="577.3" x2="245.3" y2="574.5" stroke="#1a1a1a" stroke-width="1" />
<line x1="245.3" y1="727.6" x2="245.3" y2="724.8" stroke="#1a1a1a" stroke-width="1" />
<line x1="285.8" y1="577.3" x2="285.8" y2="572.3" stroke="#1a1a1a" stroke-width="1" />
<line x1="285.8" y1="727.6" x2="285.8" y2="722.6" stroke="#1a1a1a" stroke-width="1" />
<line x1="326.3" y1="577.3" x2="326.3" y2="574.5" stroke="#1a1a1a" stroke-width="1" />
<line x1="326.3" y1="727.6" x2="326.3" y2="724.8" stroke="#1a1a1a" stroke-width="1" />
<text x="123.8" y="750.6" font-size="23" text-anchor="middle" fill="#000" >295</text>
<text x="204.8" y="750.6" font-size="23" text-anchor="middle" fill="#000" >290</text>
<text x="285.8" y="750.6" font-size="23" text-anchor="middle" fill="#000" >285</text>
<text x="366.8" y="750.6" font-size="23" text-anchor="middle" fill="#000" >280</text>
<text x="246.5" y="786.4" font-size="23.2" text-anchor="middle" fill="#000" >Binding energy / eV</text>
<text transform="translate(114.2,579.3) rotate(-90)" x="0" y="0" font-size="23.3" text-anchor="middle" fill="#000">Intensity / arb. units</text>
<text x="384.2" y="416.4" font-size="35" text-anchor="start" fill="#000" >d</text>
<polyline points="423.5,551.08 428.3,552.02 435.19,551.38 442.86,552.43 450,552.47 456.47,552.04 462.91,552.26 469.14,553.26 475,552.94 480.47,553.14 485.62,553.03 490.47,552.66 495,552.86 499.1,552.54 502.81,552.18 506.37,552.34 510,552.61 513.89,551.84 517.88,550.34 521.67,549.44 525,548.67 527.73,548.13 530.03,546.96 532.07,545.94 534,545.35 535.8,545.39 537.41,545.51 538.93,544.14 540.5,543.58 542.07,544.78 543.59,544.91 545.2,545.47 547,546.22 549.05,546.09 551.28,545.85 553.62,545.74 556,546.27 558.45,545.51 561,545.43 563.55,544.08 566,543.37 568.37,541.66 570.69,540.47 572.91,538.69 575,537.2 576.91,535.5 578.69,532.86 580.37,530.43 582,529.17 583.59,526.3 585.12,523.98 586.59,521.57 588,519.5 589.34,517.1 590.62,514.82 591.84,512.64 593,509.69 594.07,507.17 595.06,504.58 596.02,501.82 597,499 598.02,496.35 599.06,493.5 600.07,490.59 601,487.42 601.83,485.51 602.59,482.63 603.31,479.36 604,477.16 604.65,474.59 605.26,472.05 605.87,468.93 606.5,466.57 607.18,463.84 607.88,461.45 608.59,457.6 609.3,455.37 610.02,453.34 610.76,452.24 611.49,451.68 612.2,450.47 612.87,450.33 613.51,452.17 614.15,453.02 614.8,454.28 615.45,456.73 616.11,459.06 616.78,460.73 617.5,464.53 618.26,468.71 619.06,472.36 619.9,476.86 620.8,481.32 621.77,484.27 622.8,486.97 623.86,490.27 624.9,493.73 625.93,498.89 626.96,503.13 627.98,509.28 629,513.32 630,518.66 630.99,522.85 631.99,527.75 633,532.35 634.02,536.1 635.04,539.56 636.1,542.16 637.2,545.03 638.26,547.58 639.29,549.91 640.51,551.48 642.1,553.68 644.13,554.78 646.48,556.16 649.12,556.81 652,557.63 655.54,557.75 659.62,558.3 663.39,558.31 666,558.89" fill="none" stroke="#3cc46f" stroke-width="2.7" stroke-linejoin="round" stroke-linecap="butt" />
<polyline points="423.5,552.73 428.3,553.3 435.19,552.89 442.86,554.81 450,553.95 456.47,554.72 462.91,554.93 469.14,553.93 475,554.9 480.47,555.6 485.62,554.27 490.47,555.35 495,554.67 499.1,554.68 502.81,554.73 506.37,553.72 510,554.06 513.89,553.22 517.88,552.51 521.67,552.33 525,552.72 527.73,551.14 530.03,550.82 532.07,550.26 534,549.74 535.78,549.83 537.34,550.08 538.86,549.49 540.5,549.7 542.29,549.44 544.16,550.66 546.07,549.46 548,550.39 549.92,550.43 551.84,550.34 553.85,549.73 556,549.39 558.38,549.17 560.94,548.59 563.52,547.22 566,546.12 568.37,545.25 570.69,543.74 572.91,541.3 575,539.24 576.91,537.08 578.69,535.89 580.37,532.73 582,529.96 583.57,527.59 585.06,525.14 586.52,521.78 588,517.99 589.5,515.66 591,512.78 592.5,510.07 594,507.06 595.52,504.68 597.06,501.79 598.57,499.68 600,497 601.32,493.93 602.56,491.29 603.77,489.24 605,487.21 606.27,484.77 607.56,482.21 608.82,478.84 610,477.81 611.08,475.93 612.07,474.44 613.04,472.72 614,471.83 614.98,470.82 615.95,471.29 616.9,470.15 617.8,469.72 618.65,469.85 619.45,470.11 620.23,471 621,472.34 621.72,474.95 622.39,478.53 623.11,482.21 624,486.09 625.11,490.87 626.38,495.32 627.71,500.04 629,505.07 630.23,511.08 631.46,517.27 632.68,523.35 633.9,529.06 635.12,533.56 636.35,538.32 637.57,543.26 638.8,547.1 639.95,549.38 641.04,551.83 642.24,553.92 643.7,555.1 645.4,556.3 647.28,556.62 649.44,558.66 652,559.21 655.43,559.82 659.52,560.32 663.35,560.63 666,561.45" fill="none" stroke="#5e5d9e" stroke-width="2.7" stroke-linejoin="round" stroke-linecap="butt" />
<polyline points="423.5,554.55 428.3,555.2 435.19,554.71 442.86,555.99 450,555.8 456.47,556.45 462.91,555.93 469.14,556.58 475,557.01 480.47,556.67 485.62,556.1 490.47,556.44 495,556.67 499.1,555.93 502.81,555.84 506.37,556.29 510,555.65 513.75,555.86 517.5,554.73 521.25,553.99 525,553.91 528.91,554.31 532.94,553.09 536.74,553.05 540,552.87 542.45,552.33 544.31,553.03 546.02,552.68 548,552.64 550.41,551.63 553,551.26 555.59,550.49 558,550.92 560.12,550.46 562.06,550.33 563.98,549.97 566,548.4 568.23,546.99 570.56,545.52 572.87,543.98 575,541.2 576.91,539.72 578.69,537.34 580.37,535.14 582,533.27 583.57,530.34 585.06,527.77 586.52,525.83 588,522.98 589.5,520.22 591,517.5 592.5,514.93 594,511.86 595.52,509.49 597.06,506.6 598.57,504.22 600,501.43 601.32,498.59 602.56,495.54 603.77,493.04 605,490.28 606.27,489.04 607.56,485.58 608.82,483.64 610,481.96 611.09,479.35 612.11,478.1 613.08,477.05 614,475.84 614.87,474.93 615.67,474.59 616.45,474.85 617.2,474.54 617.91,474.34 618.58,474.56 619.26,474.61 620,476.73 620.79,478.66 621.61,480.75 622.5,484.37 623.5,487.92 624.64,492.14 625.91,496.92 627.21,502.34 628.5,507.66 629.75,513.82 631,519.77 632.25,525.67 633.5,530.93 634.75,535.83 636,541.39 637.25,544.26 638.5,548.91 639.67,551.37 640.78,553.36 642,554.82 643.5,556.41 645.25,557.39 647.19,558.35 649.41,559.65 652,559.91 655.44,561.57 659.53,562.38 663.36,561.37 666,562.45" fill="none" stroke="#9a9a9a" stroke-width="2.7" stroke-linejoin="round" stroke-linecap="butt" />
<polyline points="423.5,694.08 427.4,694.3 433,694.6 439.23,695.09 445,695.55 450.08,695.91 455.03,696.55 459.96,696.24 465,696.79 470.39,696.17 476,696.93 481.36,696.71 486,697.68 489.7,697.92 492.75,697.09 495.42,696.16 498,696.25 500.48,695.95 502.75,695.62 504.89,695.46 507,694.83 509.09,692.81 511.12,693.33 513.09,691.73 515,690.8 516.8,690.61 518.5,689.15 520.2,687.89 522,687.03 523.91,686.59 525.88,685.94 527.91,685.26 530,683.93 532.18,683.24 534.44,683.48 536.73,682.41 539,682.9 541.3,682.54 543.62,682.82 545.89,682.99 548,683.4 549.91,683.26 551.69,683.29 553.37,683.46 555,683.06 556.62,682.92 558.19,682.17 559.66,681.25 561,680.42 562.12,679.68 563.06,679.66 563.98,678.06 565,676.28 566.18,674.15 567.44,671.76 568.73,668.28 570,664.74 571.25,660.59 572.5,656.11 573.75,651.41 575,646.85 576.25,641.74 577.5,637.59 578.75,632.89 580,630.27 581.25,626.94 582.5,623.88 583.75,620.6 585,618.29 586.25,615.43 587.5,613.17 588.75,610.69 590,609.22 591.27,607.9 592.56,607.37 593.82,606.66 595,604.83 596.07,603.83 597.06,602.44 598.02,600.71 599,599.09 600,598.27 601,596.95 602,596.25 603,595.14 604.04,593.77 605.09,592.3 606.11,591.12 607,589.47 607.73,589.18 608.34,587.52 608.91,587.6 609.5,587.53 610.12,587.26 610.75,587.43 611.38,588.96 612,589.56 612.61,591.3 613.22,592.75 613.84,594.39 614.5,596.99 615.21,600.85 615.96,604.88 616.72,609.04 617.5,614.05 618.29,618.72 619.09,623.25 619.9,628.05 620.7,632.94 621.49,638.45 622.28,644.04 623.06,649.55 623.8,655.38 624.49,658.7 625.14,662.26 625.8,664.57 626.5,668.05 627.26,670.57 628.06,674.59 628.88,675.86 629.7,678.65 630.5,682.33 631.3,685.54 632.12,687.48 633,691.08 633.86,693.8 634.71,695.38 635.7,698.07 637,699.31 638.41,700.33 639.94,701.34 641.99,701.85 645,702.01 649.83,703.68 656,703.02 661.92,703.1 666,703.79" fill="none" stroke="#e90000" stroke-width="2.7" stroke-linejoin="round" stroke-linecap="butt" />
<polyline points="423.5,695.76 427.4,696.53 433,696.37 439.23,697.02 445,697.32 450.08,697.68 455.03,697.86 459.96,698.19 465,699.07 470.39,698.52 476,698.82 481.36,699.09 486,699.49 489.7,699.36 492.75,699.36 495.42,698.31 498,698.58 500.48,698.14 502.75,697.78 504.89,697.54 507,696.31 509.09,696.45 511.12,695.67 513.09,694.31 515,693.96 516.8,693.68 518.5,692.12 520.2,691.56 522,690.41 523.88,689.35 525.81,688.45 527.84,687.83 530,687.74 532.36,687.03 534.88,686.05 537.45,686.32 540,685.75 542.59,685.6 545.25,686.23 547.78,686.03 550,685.95 551.8,686.94 553.31,685.81 554.66,686.47 556,685.46 557.34,685.52 558.62,684.86 559.84,684.08 561,682.73 562.05,682.78 563,682.14 563.95,680.97 565,679.97 566.18,678.67 567.44,676.11 568.73,674.03 570,670.49 571.25,667.08 572.5,662.49 573.75,658.21 575,653 576.25,648.45 577.5,644.44 578.75,639.46 580,636.36 581.25,632.37 582.5,629.21 583.75,626.95 585,624.07 586.25,622.17 587.5,619.23 588.75,618.07 590,616.21 591.25,614.9 592.5,613.15 593.75,613.08 595,611.86 596.25,610.57 597.5,609.68 598.75,609.16 600,609.27 601.27,608.13 602.56,607.48 603.82,607.22 605,606.5 606.09,605.99 607.12,605.58 608.09,604.86 609,604.5 609.84,603.21 610.62,603.05 611.34,602.4 612,602.23 612.54,601.96 612.99,601.62 613.44,601.86 614,602.92 614.72,603.57 615.52,604.92 616.37,607.5 617.2,609.83 618,611.8 618.81,614.6 619.61,617.27 620.4,620.93 621.17,625.41 621.93,629.84 622.7,634.36 623.5,638.9 624.31,642.97 625.12,648.17 626,652.84 627,657.86 628.15,663.37 629.41,668.25 630.77,673.83 632.2,678.12 633.74,683.54 635.38,687.83 637.06,692.01 638.7,695.23 640.2,697.99 641.63,700.66 643.17,701.79 645,703.72 647.22,704.86 649.71,704.73 652.34,704.86 655,705.65 657.94,705.79 661.12,706.08 664,706.17 666,705.74" fill="none" stroke="#33649e" stroke-width="2.7" stroke-linejoin="round" stroke-linecap="butt" />
<polyline points="423.5,703.42 427.4,704.11 433,704.22 439.23,704.89 445,705.12 450.08,706.13 455.03,706.78 459.96,705.85 465,706.76 470.11,707.01 475.25,706.69 480.52,706.87 486,706.65 491.88,706.63 498.06,706.75 504.21,706.62 510,706.04 515.4,705.78 520.56,704.92 525.45,703.77 530,704 534.15,703.31 537.94,702.08 541.51,702.31 545,701.17 548.53,700.26 552,700 555.22,697.59 558,696.96 560.22,696.81 562,695.52 563.53,694.27 565,694.02 566.39,692.52 567.62,690.7 568.8,689.63 570,688.8 571.25,687.68 572.5,684.86 573.75,684.08 575,682.38 576.25,680.52 577.5,679.71 578.75,677.87 580,676.83 581.25,676.04 582.5,674.07 583.75,672.6 585,671.11 586.25,669.83 587.5,668.99 588.75,667.21 590,666.29 591.3,665.29 592.62,663.21 593.89,661.72 595,660.72 595.89,659.42 596.62,657.34 597.3,655.77 598,654.41 598.75,651.97 599.5,648.96 600.25,646.57 601,643.8 601.75,641.03 602.5,639.41 603.25,636.23 604,633.29 604.76,630.41 605.53,627.98 606.29,624.24 607,620.67 607.66,618.2 608.28,615.36 608.89,612.52 609.5,610.4 610.11,608.22 610.72,606.11 611.34,604.16 612,603 612.73,600.74 613.5,600.32 614.27,599.01 615,598.31 615.66,596.85 616.28,597.91 616.89,596.66 617.5,597.12 618.11,598.01 618.72,598.19 619.34,599.14 620,599.75 620.74,602.06 621.53,604.36 622.31,606.79 623,608.72 623.57,611.02 624.05,613.22 624.51,615.12 625,617.66 625.51,621.33 626.02,623.26 626.57,627.29 627.2,630.94 627.95,636.51 628.78,641.68 629.65,648.23 630.5,654.03 631.29,659.32 632.05,664.87 632.86,669.77 633.8,675.19 634.93,680.39 636.19,686.15 637.48,690.83 638.7,694.54 639.71,697.99 640.59,700.41 641.61,701.99 643,704.47 644.8,705.73 646.89,707.16 649.29,707.72 652,708.88 655.48,710.38 659.56,710.49 663.37,711.89 666,712.35" fill="none" stroke="#fcbc14" stroke-width="2.7" stroke-linejoin="round" stroke-linecap="butt" />
<text x="609.8" y="538.6" font-size="15" text-anchor="middle" fill="#000" >C=O</text>
<line x1="609" y1="447.4" x2="609" y2="524" stroke="#111" stroke-width="1.35" stroke-dasharray="5.5,2,1.2,2" />
<text x="608.9" y="679.5" font-size="15" text-anchor="middle" fill="#000" >C=O</text>
<line x1="608.7" y1="584.6" x2="608.7" y2="664.9" stroke="#111" stroke-width="1.35" stroke-dasharray="5.5,2,1.2,2" />
<line x1="429.6" y1="437.4" x2="454.5" y2="437.4" stroke="#3cc46f" stroke-width="2.8" />
<text x="456.6" y="441.1" font-size="10.2" text-anchor="start" fill="#222" >Slurry-coating-As prepared</text>
<line x1="429.6" y1="450" x2="454.5" y2="450" stroke="#5e5d9e" stroke-width="2.8" />
<text x="456.6" y="453.7" font-size="10.2" text-anchor="start" fill="#222" >Slurry-coating-3.8V</text>
<line x1="429.6" y1="462.6" x2="454.5" y2="462.6" stroke="#9a9a9a" stroke-width="2.8" />
<text x="456.6" y="466.3" font-size="10.2" text-anchor="start" fill="#222" >Slurry-coating-4.5V</text>
<line x1="429.6" y1="589" x2="454.5" y2="589" stroke="#e90000" stroke-width="2.8" />
<text x="456.6" y="592.7" font-size="10.2" text-anchor="start" fill="#222" >Dry-processing-As prepared</text>
<line x1="429.6" y1="602.3" x2="454.5" y2="602.3" stroke="#33649e" stroke-width="2.8" />
<text x="456.6" y="606" font-size="10.2" text-anchor="start" fill="#222" >Dry-processing-3.8V</text>
<line x1="429.6" y1="615.6" x2="454.5" y2="615.6" stroke="#fcbc14" stroke-width="2.8" />
<text x="456.6" y="619.3" font-size="10.2" text-anchor="start" fill="#222" >Dry-processing-4.5V</text>
<text x="629.6" y="443.9" font-size="15.5" text-anchor="start" fill="#000" >O 1<tspan font-family="Liberation Serif" font-style="italic" dx="0.8">s</tspan></text>
<text x="629.6" y="597.6" font-size="15.5" text-anchor="start" fill="#000" >O 1<tspan font-family="Liberation Serif" font-style="italic" dx="0.8">s</tspan></text>
<rect x="422.8" y="426.5" width="243.3" height="301" fill="none" stroke="#1a1a1a" stroke-width="1.2"/>
<line x1="422.8" y1="577.7" x2="666.1" y2="577.7" stroke="#1a1a1a" stroke-width="1.3" />
<line x1="453.36" y1="577.7" x2="453.36" y2="574.9" stroke="#1a1a1a" stroke-width="1" />
<line x1="453.36" y1="727.5" x2="453.36" y2="724.7" stroke="#1a1a1a" stroke-width="1" />
<line x1="483.72" y1="577.7" x2="483.72" y2="572.7" stroke="#1a1a1a" stroke-width="1" />
<line x1="483.72" y1="727.5" x2="483.72" y2="722.5" stroke="#1a1a1a" stroke-width="1" />
<line x1="514.08" y1="577.7" x2="514.08" y2="574.9" stroke="#1a1a1a" stroke-width="1" />
<line x1="514.08" y1="727.5" x2="514.08" y2="724.7" stroke="#1a1a1a" stroke-width="1" />
<line x1="544.44" y1="577.7" x2="544.44" y2="572.7" stroke="#1a1a1a" stroke-width="1" />
<line x1="544.44" y1="727.5" x2="544.44" y2="722.5" stroke="#1a1a1a" stroke-width="1" />
<line x1="574.8" y1="577.7" x2="574.8" y2="574.9" stroke="#1a1a1a" stroke-width="1" />
<line x1="574.8" y1="727.5" x2="574.8" y2="724.7" stroke="#1a1a1a" stroke-width="1" />
<line x1="605.16" y1="577.7" x2="605.16" y2="572.7" stroke="#1a1a1a" stroke-width="1" />
<line x1="605.16" y1="727.5" x2="605.16" y2="722.5" stroke="#1a1a1a" stroke-width="1" />
<line x1="635.52" y1="577.7" x2="635.52" y2="574.9" stroke="#1a1a1a" stroke-width="1" />
<line x1="635.52" y1="727.5" x2="635.52" y2="724.7" stroke="#1a1a1a" stroke-width="1" />
<text x="423" y="750.6" font-size="23" text-anchor="middle" fill="#000" >544</text>
<text x="483.72" y="750.6" font-size="23" text-anchor="middle" fill="#000" >540</text>
<text x="544.44" y="750.6" font-size="23" text-anchor="middle" fill="#000" >536</text>
<text x="605.16" y="750.6" font-size="23" text-anchor="middle" fill="#000" >532</text>
<text x="665.88" y="750.6" font-size="23" text-anchor="middle" fill="#000" >528</text>
<text x="545.6" y="787" font-size="23.2" text-anchor="middle" fill="#000" >Binding energy / eV</text>
<text transform="translate(413.2,579.5) rotate(-90)" x="0" y="0" font-size="23.3" text-anchor="middle" fill="#000">Intensity / arb. units</text>
</svg>
</body></html>
